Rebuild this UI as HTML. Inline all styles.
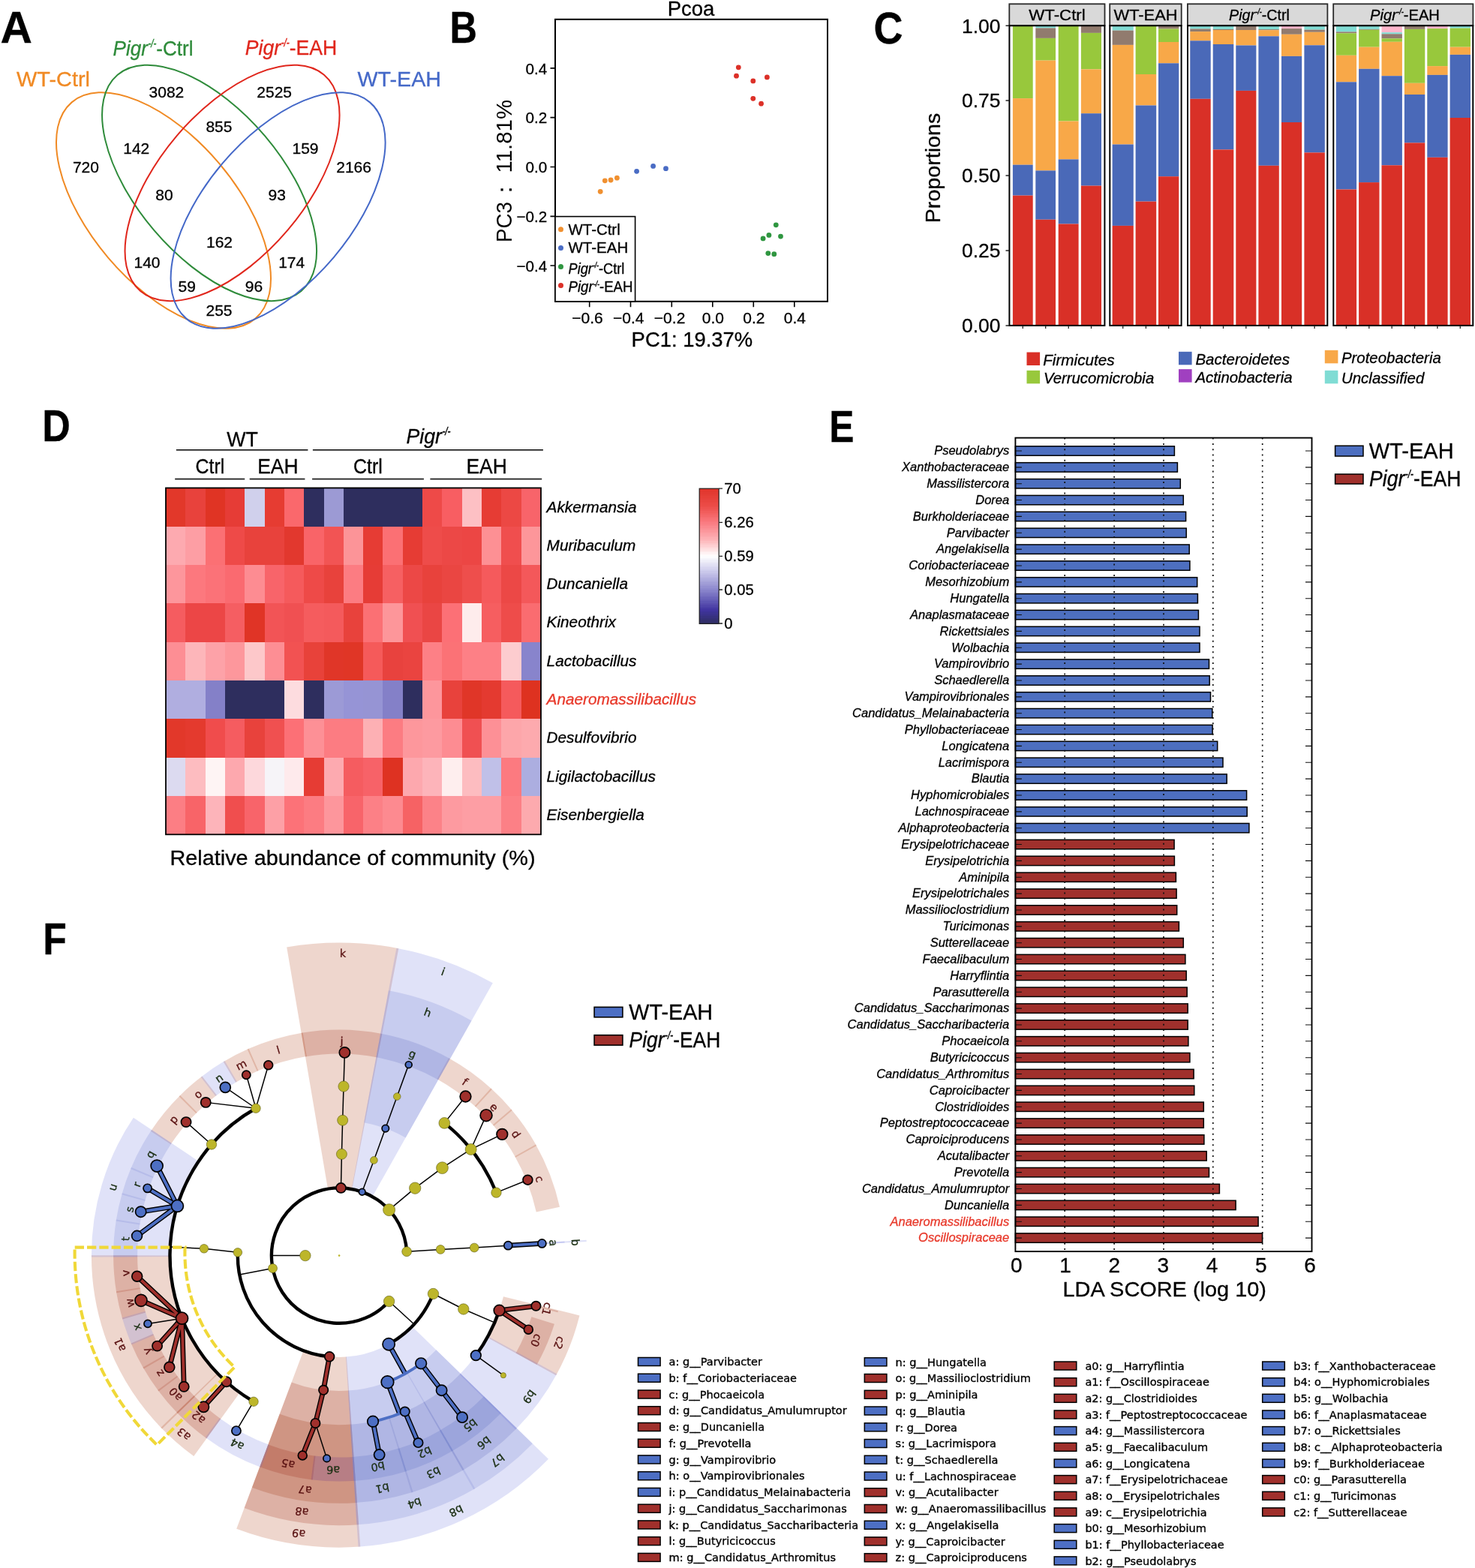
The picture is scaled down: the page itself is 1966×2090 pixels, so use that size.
<!DOCTYPE html>
<html><head><meta charset="utf-8"><title>Figure</title>
<style>html,body{margin:0;padding:0;background:#fff}body{width:1966px;height:2090px;overflow:hidden}svg{display:block}</style>
</head><body>
<svg width="1966" height="2090" viewBox="0 0 1966 2090" font-family="Liberation Sans, Arial, sans-serif" stroke="none" stroke-width="0.3">
<rect width="1966" height="2090" fill="#fff"/>
<g id="panelA">
<text x="0.6" y="56.5" font-size="59.5" font-weight="bold" stroke="#000" textLength="42.5" lengthAdjust="spacingAndGlyphs">A</text>
<text x="599.6" y="57.4" font-size="59.5" font-weight="bold" stroke="#000" textLength="36.5" lengthAdjust="spacingAndGlyphs">B</text>
<ellipse cx="0" cy="0" rx="189.07" ry="97.05" transform="translate(218.00 280.50) rotate(49.67)" fill="none" stroke="#f08a24" stroke-width="2"/>
<ellipse cx="0" cy="0" rx="189.07" ry="97.05" transform="translate(279.07 243.90) rotate(49.67)" fill="none" stroke="#2e8b3a" stroke-width="2"/>
<ellipse cx="0" cy="0" rx="189.07" ry="97.05" transform="translate(309.55 243.90) rotate(-49.67)" fill="none" stroke="#e0261c" stroke-width="2"/>
<ellipse cx="0" cy="0" rx="189.07" ry="97.05" transform="translate(370.60 280.50) rotate(-49.67)" fill="none" stroke="#4468c8" stroke-width="2"/>
<g transform="translate(150.6 73.8) scale(0.9312 1)" fill="#2e8b3a" stroke="#2e8b3a">
<text x="0" y="0" font-size="28" font-style="italic">Pigr</text>
<text x="50.4" y="-10.8" font-size="14.56" font-style="italic" stroke-width="0.5" textLength="11.7" lengthAdjust="spacingAndGlyphs">-/-</text>
<text x="62.0" y="0" font-size="28">-Ctrl</text>
</g>
<g transform="translate(326.8 72.7) scale(0.9501 1)" fill="#e0261c" stroke="#e0261c">
<text x="0" y="0" font-size="28" font-style="italic">Pigr</text>
<text x="50.4" y="-10.8" font-size="14.56" font-style="italic" stroke-width="0.5" textLength="11.7" lengthAdjust="spacingAndGlyphs">-/-</text>
<text x="62.0" y="0" font-size="28">-EAH</text>
</g>
<text x="22.0" y="114.7" font-size="28" fill="#f08a24" stroke="#f08a24" textLength="98.0" lengthAdjust="spacingAndGlyphs">WT-Ctrl</text>
<text x="476.5" y="114.7" font-size="28" fill="#4468c8" stroke="#4468c8" textLength="111.5" lengthAdjust="spacingAndGlyphs">WT-EAH</text>
<text x="221.9" y="130.3" font-size="21" text-anchor="middle" stroke="#000">3082</text>
<text x="365.7" y="130.3" font-size="21" text-anchor="middle" stroke="#000">2525</text>
<text x="291.9" y="176.2" font-size="21" text-anchor="middle" stroke="#000">855</text>
<text x="181.8" y="205.3" font-size="21" text-anchor="middle" stroke="#000">142</text>
<text x="407.0" y="205.3" font-size="21" text-anchor="middle" stroke="#000">159</text>
<text x="114.4" y="230.3" font-size="21" text-anchor="middle" stroke="#000">720</text>
<text x="471.6" y="230.3" font-size="21" text-anchor="middle" stroke="#000">2166</text>
<text x="219.0" y="267.1" font-size="21" text-anchor="middle" stroke="#000">80</text>
<text x="369.3" y="267.1" font-size="21" text-anchor="middle" stroke="#000">93</text>
<text x="292.5" y="329.7" font-size="21" text-anchor="middle" stroke="#000">162</text>
<text x="196.0" y="357.0" font-size="21" text-anchor="middle" stroke="#000">140</text>
<text x="388.7" y="357.0" font-size="21" text-anchor="middle" stroke="#000">174</text>
<text x="249.3" y="388.5" font-size="21" text-anchor="middle" stroke="#000">59</text>
<text x="338.4" y="388.5" font-size="21" text-anchor="middle" stroke="#000">96</text>
<text x="292.0" y="420.6" font-size="21" text-anchor="middle" stroke="#000">255</text>
</g>
<g id="panelB">
<text x="921.0" y="20.9" font-size="27.5" text-anchor="middle" stroke="#000" textLength="62.6" lengthAdjust="spacingAndGlyphs">Pcoa</text>
<path d="M785.7 401.8v7.5M840.5 401.8v7.5M895.3 401.8v7.5M949.8 401.8v7.5M1004.3 401.8v7.5M1058.8 401.8v7.5M740.0 90.9h-6.5M740.0 156.6h-6.5M740.0 222.5h-6.5M740.0 288.4h-6.5M740.0 354.0h-6.5" stroke="#000" stroke-width="1.6" fill="none"/>
<text x="783.0" y="430.5" font-size="21" text-anchor="middle" stroke="#000" textLength="41.5" lengthAdjust="spacingAndGlyphs">−0.6</text>
<text x="837.8" y="430.5" font-size="21" text-anchor="middle" stroke="#000" textLength="41.5" lengthAdjust="spacingAndGlyphs">−0.4</text>
<text x="892.6" y="430.5" font-size="21" text-anchor="middle" stroke="#000" textLength="41.5" lengthAdjust="spacingAndGlyphs">−0.2</text>
<text x="950.4" y="430.5" font-size="21" text-anchor="middle" stroke="#000" textLength="29.2" lengthAdjust="spacingAndGlyphs">0.0</text>
<text x="1004.9" y="430.5" font-size="21" text-anchor="middle" stroke="#000" textLength="29.2" lengthAdjust="spacingAndGlyphs">0.2</text>
<text x="1059.4" y="430.5" font-size="21" text-anchor="middle" stroke="#000" textLength="29.2" lengthAdjust="spacingAndGlyphs">0.4</text>
<text x="729.3" y="98.6" font-size="21" text-anchor="end" stroke="#000" textLength="28.8" lengthAdjust="spacingAndGlyphs">0.4</text>
<text x="729.3" y="164.3" font-size="21" text-anchor="end" stroke="#000" textLength="28.8" lengthAdjust="spacingAndGlyphs">0.2</text>
<text x="729.3" y="230.2" font-size="21" text-anchor="end" stroke="#000" textLength="28.8" lengthAdjust="spacingAndGlyphs">0.0</text>
<text x="729.3" y="296.1" font-size="21" text-anchor="end" stroke="#000" textLength="40.8" lengthAdjust="spacingAndGlyphs">−0.2</text>
<text x="729.3" y="361.7" font-size="21" text-anchor="end" stroke="#000" textLength="40.8" lengthAdjust="spacingAndGlyphs">−0.4</text>
<text x="922.4" y="461.6" font-size="27.4" text-anchor="middle" stroke="#000" textLength="161.6" lengthAdjust="spacingAndGlyphs">PC1: 19.37%</text>
<g transform="translate(681.5 323) rotate(-90)">
<text x="0" y="0" font-size="28.7" textLength="54.0" lengthAdjust="spacingAndGlyphs">PC3</text>
<text x="70.1" y="0" font-size="28.7" text-anchor="middle" font-family="Liberation Sans, WenQuanYi Zen Hei, sans-serif">：</text>
<text x="92.6" y="0" font-size="28.7" textLength="97.4" lengthAdjust="spacingAndGlyphs">11.81%</text>
</g>
<circle cx="984.3" cy="89.8" r="3.4" fill="#dc3028"/>
<circle cx="981.5" cy="101.2" r="3.4" fill="#dc3028"/>
<circle cx="1003.8" cy="107.9" r="3.4" fill="#dc3028"/>
<circle cx="1022.4" cy="102.9" r="3.4" fill="#dc3028"/>
<circle cx="1003.8" cy="131.3" r="3.4" fill="#dc3028"/>
<circle cx="1014.6" cy="138.2" r="3.4" fill="#dc3028"/>
<circle cx="848.6" cy="228.3" r="3.4" fill="#4a6cc4"/>
<circle cx="870.6" cy="221.4" r="3.4" fill="#4a6cc4"/>
<circle cx="887.5" cy="224.7" r="3.4" fill="#4a6cc4"/>
<circle cx="806.3" cy="240.8" r="3.4" fill="#f09030"/>
<circle cx="814.1" cy="240.0" r="3.4" fill="#f09030"/>
<circle cx="822.4" cy="237.2" r="3.4" fill="#f09030"/>
<circle cx="800.2" cy="255.3" r="3.4" fill="#f09030"/>
<circle cx="1034.3" cy="299.8" r="3.4" fill="#2f9640"/>
<circle cx="1024.9" cy="313.4" r="3.4" fill="#2f9640"/>
<circle cx="1017.1" cy="317.9" r="3.4" fill="#2f9640"/>
<circle cx="1040.5" cy="315.1" r="3.4" fill="#2f9640"/>
<circle cx="1023.8" cy="337.6" r="3.4" fill="#2f9640"/>
<circle cx="1031.8" cy="338.7" r="3.4" fill="#2f9640"/>
<rect x="740.0" y="25.8" width="363.0" height="376.0" fill="none" stroke="#000" stroke-width="2"/>
<rect x="740.0" y="288.6" width="106.6" height="113.2" fill="#fff" stroke="#000" stroke-width="1.6"/>
<circle cx="747.5" cy="305.7" r="3.5" fill="#f09030"/>
<circle cx="747.5" cy="330.5" r="3.5" fill="#4a6cc4"/>
<circle cx="747.5" cy="355.5" r="3.5" fill="#2f9640"/>
<circle cx="747.5" cy="380.4" r="3.5" fill="#dc3028"/>
<text x="757.5" y="312.5" font-size="20" stroke="#000" textLength="69.2" lengthAdjust="spacingAndGlyphs">WT-Ctrl</text>
<text x="757.5" y="337.4" font-size="20" stroke="#000" textLength="79.7" lengthAdjust="spacingAndGlyphs">WT-EAH</text>
<g transform="translate(757.5 364.5) scale(0.9125 1)" stroke="#000">
<text x="0" y="0" font-size="20" font-style="italic">Pigr</text>
<text x="36.0" y="-7.7" font-size="10.4" font-style="italic" stroke-width="0.5" textLength="8.3" lengthAdjust="spacingAndGlyphs">-/-</text>
<text x="44.3" y="0" font-size="20">-Ctrl</text>
</g>
<g transform="translate(757.5 389.4) scale(0.9349 1)" stroke="#000">
<text x="0" y="0" font-size="20" font-style="italic">Pigr</text>
<text x="36.0" y="-7.7" font-size="10.4" font-style="italic" stroke-width="0.5" textLength="8.3" lengthAdjust="spacingAndGlyphs">-/-</text>
<text x="44.3" y="0" font-size="20">-EAH</text>
</g>
</g>
<g id="panelC">
<text x="1164.6" y="57.6" font-size="59.5" font-weight="bold" stroke="#000" textLength="39.0" lengthAdjust="spacingAndGlyphs">C</text>
<rect x="1349.9" y="34.2" width="26.8" height="96.9" fill="#98c83c"/>
<rect x="1349.9" y="131.1" width="26.8" height="88.6" fill="#f8a848"/>
<rect x="1349.9" y="219.7" width="26.8" height="40.9" fill="#4a69b8"/>
<rect x="1349.9" y="260.6" width="26.8" height="173.3" fill="#d93027"/>
<rect x="1380.3" y="34.2" width="26.7" height="3.2" fill="#80dcd4"/>
<rect x="1380.3" y="37.4" width="26.7" height="13.5" fill="#917b6e"/>
<rect x="1380.3" y="50.9" width="26.7" height="29.7" fill="#98c83c"/>
<rect x="1380.3" y="80.6" width="26.7" height="146.8" fill="#f8a848"/>
<rect x="1380.3" y="227.4" width="26.7" height="65.3" fill="#4a69b8"/>
<rect x="1380.3" y="292.7" width="26.7" height="141.2" fill="#d93027"/>
<rect x="1410.7" y="34.2" width="26.9" height="127.3" fill="#98c83c"/>
<rect x="1410.7" y="161.5" width="26.9" height="50.9" fill="#f8a848"/>
<rect x="1410.7" y="212.4" width="26.9" height="86.1" fill="#4a69b8"/>
<rect x="1410.7" y="298.5" width="26.9" height="135.4" fill="#d93027"/>
<rect x="1440.9" y="34.2" width="27.1" height="9.7" fill="#917b6e"/>
<rect x="1440.9" y="43.9" width="27.1" height="48.5" fill="#98c83c"/>
<rect x="1440.9" y="92.4" width="27.1" height="58.8" fill="#f8a848"/>
<rect x="1440.9" y="151.2" width="27.1" height="96.4" fill="#4a69b8"/>
<rect x="1440.9" y="247.6" width="27.1" height="186.3" fill="#d93027"/>
<rect x="1345.3" y="5.3" width="127.2" height="28.9" fill="#d9d9d9" stroke="#2a2a2a" stroke-width="1.8"/>
<rect x="1345.4" y="34.2" width="127.0" height="399.7" fill="none" stroke="#000" stroke-width="2"/>
<rect x="1482.6" y="34.2" width="28.2" height="6.4" fill="#80dcd4"/>
<rect x="1482.6" y="40.6" width="28.2" height="19.3" fill="#917b6e"/>
<rect x="1482.6" y="59.9" width="28.2" height="132.6" fill="#f8a848"/>
<rect x="1482.6" y="192.5" width="28.2" height="108.4" fill="#4a69b8"/>
<rect x="1482.6" y="300.9" width="28.2" height="133.0" fill="#d93027"/>
<rect x="1513.6" y="34.2" width="27.6" height="64.8" fill="#98c83c"/>
<rect x="1513.6" y="99.0" width="27.6" height="41.5" fill="#f8a848"/>
<rect x="1513.6" y="140.5" width="27.6" height="128.1" fill="#4a69b8"/>
<rect x="1513.6" y="268.6" width="27.6" height="165.3" fill="#d93027"/>
<rect x="1544.0" y="34.2" width="27.3" height="4.3" fill="#917b6e"/>
<rect x="1544.0" y="38.5" width="27.3" height="17.5" fill="#98c83c"/>
<rect x="1544.0" y="56.0" width="27.3" height="28.3" fill="#f8a848"/>
<rect x="1544.0" y="84.3" width="27.3" height="150.9" fill="#4a69b8"/>
<rect x="1544.0" y="235.2" width="27.3" height="198.7" fill="#d93027"/>
<rect x="1479.2" y="5.3" width="95.5" height="28.9" fill="#d9d9d9" stroke="#2a2a2a" stroke-width="1.8"/>
<rect x="1479.3" y="34.2" width="95.3" height="399.7" fill="none" stroke="#000" stroke-width="2"/>
<rect x="1586.3" y="34.2" width="27.4" height="4.3" fill="#80dcd4"/>
<rect x="1586.3" y="38.5" width="27.4" height="3.6" fill="#917b6e"/>
<rect x="1586.3" y="42.1" width="27.4" height="12.2" fill="#f8a848"/>
<rect x="1586.3" y="54.3" width="27.4" height="77.5" fill="#4a69b8"/>
<rect x="1586.3" y="131.8" width="27.4" height="302.1" fill="#d93027"/>
<rect x="1616.7" y="34.2" width="27.6" height="4.7" fill="#80dcd4"/>
<rect x="1616.7" y="38.9" width="27.6" height="1.1" fill="#917b6e"/>
<rect x="1616.7" y="40.0" width="27.6" height="19.0" fill="#f8a848"/>
<rect x="1616.7" y="59.0" width="27.6" height="140.4" fill="#4a69b8"/>
<rect x="1616.7" y="199.4" width="27.6" height="234.5" fill="#d93027"/>
<rect x="1647.3" y="34.2" width="27.1" height="5.8" fill="#917b6e"/>
<rect x="1647.3" y="40.0" width="27.1" height="20.5" fill="#f8a848"/>
<rect x="1647.3" y="60.5" width="27.1" height="60.4" fill="#4a69b8"/>
<rect x="1647.3" y="120.9" width="27.1" height="313.0" fill="#d93027"/>
<rect x="1677.4" y="34.2" width="27.4" height="4.9" fill="#80dcd4"/>
<rect x="1677.4" y="39.1" width="27.4" height="1.1" fill="#917b6e"/>
<rect x="1677.4" y="40.2" width="27.4" height="8.1" fill="#f8a848"/>
<rect x="1677.4" y="48.3" width="27.4" height="172.5" fill="#4a69b8"/>
<rect x="1677.4" y="220.8" width="27.4" height="213.1" fill="#d93027"/>
<rect x="1708.0" y="34.2" width="27.2" height="3.9" fill="#ffb6cc"/>
<rect x="1708.0" y="38.1" width="27.2" height="7.7" fill="#917b6e"/>
<rect x="1708.0" y="45.8" width="27.2" height="29.1" fill="#f8a848"/>
<rect x="1708.0" y="74.9" width="27.2" height="88.1" fill="#4a69b8"/>
<rect x="1708.0" y="163.0" width="27.2" height="270.9" fill="#d93027"/>
<rect x="1738.4" y="34.2" width="27.4" height="5.4" fill="#80dcd4"/>
<rect x="1738.4" y="39.6" width="27.4" height="3.2" fill="#917b6e"/>
<rect x="1738.4" y="42.8" width="27.4" height="17.5" fill="#f8a848"/>
<rect x="1738.4" y="60.3" width="27.4" height="143.1" fill="#4a69b8"/>
<rect x="1738.4" y="203.4" width="27.4" height="230.5" fill="#d93027"/>
<rect x="1582.9" y="5.3" width="186.5" height="28.9" fill="#d9d9d9" stroke="#2a2a2a" stroke-width="1.8"/>
<rect x="1583.0" y="34.2" width="186.3" height="399.7" fill="none" stroke="#000" stroke-width="2"/>
<rect x="1780.8" y="34.2" width="27.3" height="8.2" fill="#80dcd4"/>
<rect x="1780.8" y="42.4" width="27.3" height="1.9" fill="#917b6e"/>
<rect x="1780.8" y="44.3" width="27.3" height="29.5" fill="#98c83c"/>
<rect x="1780.8" y="73.8" width="27.3" height="35.5" fill="#f8a848"/>
<rect x="1780.8" y="109.3" width="27.3" height="143.2" fill="#4a69b8"/>
<rect x="1780.8" y="252.5" width="27.3" height="181.4" fill="#d93027"/>
<rect x="1811.1" y="34.2" width="27.4" height="4.7" fill="#80dcd4"/>
<rect x="1811.1" y="38.9" width="27.4" height="0.9" fill="#917b6e"/>
<rect x="1811.1" y="39.8" width="27.4" height="22.9" fill="#98c83c"/>
<rect x="1811.1" y="62.7" width="27.4" height="29.1" fill="#f8a848"/>
<rect x="1811.1" y="91.8" width="27.4" height="151.3" fill="#4a69b8"/>
<rect x="1811.1" y="243.1" width="27.4" height="190.8" fill="#d93027"/>
<rect x="1841.5" y="34.2" width="27.4" height="9.0" fill="#ffb6cc"/>
<rect x="1841.5" y="43.2" width="27.4" height="2.1" fill="#80dcd4"/>
<rect x="1841.5" y="45.3" width="27.4" height="6.0" fill="#917b6e"/>
<rect x="1841.5" y="51.3" width="27.4" height="4.5" fill="#98c83c"/>
<rect x="1841.5" y="55.8" width="27.4" height="45.4" fill="#f8a848"/>
<rect x="1841.5" y="101.2" width="27.4" height="119.1" fill="#4a69b8"/>
<rect x="1841.5" y="220.3" width="27.4" height="213.6" fill="#d93027"/>
<rect x="1871.9" y="34.2" width="27.4" height="4.7" fill="#917b6e"/>
<rect x="1871.9" y="38.9" width="27.4" height="71.9" fill="#98c83c"/>
<rect x="1871.9" y="110.8" width="27.4" height="15.2" fill="#f8a848"/>
<rect x="1871.9" y="126.0" width="27.4" height="64.4" fill="#4a69b8"/>
<rect x="1871.9" y="190.4" width="27.4" height="243.5" fill="#d93027"/>
<rect x="1902.3" y="34.2" width="27.3" height="3.9" fill="#ffb6cc"/>
<rect x="1902.3" y="38.1" width="27.3" height="50.0" fill="#98c83c"/>
<rect x="1902.3" y="88.1" width="27.3" height="11.8" fill="#f8a848"/>
<rect x="1902.3" y="99.9" width="27.3" height="109.9" fill="#4a69b8"/>
<rect x="1902.3" y="209.8" width="27.3" height="224.1" fill="#d93027"/>
<rect x="1932.6" y="34.2" width="27.4" height="3.4" fill="#80dcd4"/>
<rect x="1932.6" y="37.6" width="27.4" height="25.1" fill="#98c83c"/>
<rect x="1932.6" y="62.7" width="27.4" height="10.2" fill="#f8a848"/>
<rect x="1932.6" y="72.9" width="27.4" height="84.1" fill="#4a69b8"/>
<rect x="1932.6" y="157.0" width="27.4" height="276.9" fill="#d93027"/>
<rect x="1777.2" y="5.3" width="186.2" height="28.9" fill="#d9d9d9" stroke="#2a2a2a" stroke-width="1.8"/>
<rect x="1777.3" y="34.2" width="186.0" height="399.7" fill="none" stroke="#000" stroke-width="2"/>
<path d="M1363.3 433.9v4M1393.7 433.9v4M1424.2 433.9v4M1454.5 433.9v4M1496.7 433.9v4M1527.4 433.9v4M1557.7 433.9v4M1600.0 433.9v4M1630.5 433.9v4M1660.8 433.9v4M1691.1 433.9v4M1721.6 433.9v4M1752.1 433.9v4M1794.4 433.9v4M1824.8 433.9v4M1855.2 433.9v4M1885.6 433.9v4M1915.9 433.9v4M1946.3 433.9v4" stroke="#222" stroke-width="1.3" fill="none"/>
<text x="1409.0" y="26.7" font-size="21" text-anchor="middle" stroke="#000" textLength="75.5" lengthAdjust="spacingAndGlyphs">WT-Ctrl</text>
<text x="1527.0" y="26.7" font-size="21" text-anchor="middle" stroke="#000" textLength="85.0" lengthAdjust="spacingAndGlyphs">WT-EAH</text>
<g transform="translate(1638.0 26.7) scale(0.9399 1)" stroke="#000">
<text x="0" y="0" font-size="21" font-style="italic">Pigr</text>
<text x="37.8" y="-8.1" font-size="10.92" font-style="italic" stroke-width="0.5" textLength="8.8" lengthAdjust="spacingAndGlyphs">-/-</text>
<text x="46.5" y="0" font-size="21">-Ctrl</text>
</g>
<g transform="translate(1826.0 26.7) scale(0.9617 1)" stroke="#000">
<text x="0" y="0" font-size="21" font-style="italic">Pigr</text>
<text x="37.8" y="-8.1" font-size="10.92" font-style="italic" stroke-width="0.5" textLength="8.8" lengthAdjust="spacingAndGlyphs">-/-</text>
<text x="46.5" y="0" font-size="21">-EAH</text>
</g>
<text x="1333.5" y="443.2" font-size="26" text-anchor="end" stroke="#000" textLength="51.4" lengthAdjust="spacingAndGlyphs">0.00</text>
<text x="1333.5" y="343.3" font-size="26" text-anchor="end" stroke="#000" textLength="51.4" lengthAdjust="spacingAndGlyphs">0.25</text>
<text x="1333.5" y="243.3" font-size="26" text-anchor="end" stroke="#000" textLength="51.4" lengthAdjust="spacingAndGlyphs">0.50</text>
<text x="1333.5" y="143.4" font-size="26" text-anchor="end" stroke="#000" textLength="51.4" lengthAdjust="spacingAndGlyphs">0.75</text>
<text x="1333.5" y="43.5" font-size="26" text-anchor="end" stroke="#000" textLength="51.4" lengthAdjust="spacingAndGlyphs">1.00</text>
<path d="M1345 433.9h-4.5M1345 334.0h-4.5M1345 234.0h-4.5M1345 134.1h-4.5M1345 34.2h-4.5" stroke="#222" stroke-width="1.5" fill="none"/>
<text x="1252.5" y="224.0" font-size="28.5" text-anchor="middle" stroke="#000" textLength="146.5" lengthAdjust="spacingAndGlyphs" transform="rotate(-90.00 1252.5 224.0)">Proportions</text>
<rect x="1368.5" y="469.5" width="17.6" height="17.5" fill="#d93027"/>
<text x="1390.2" y="486.9" font-size="21" font-style="italic" stroke="#000" textLength="95.4" lengthAdjust="spacingAndGlyphs">Firmicutes</text>
<rect x="1368.5" y="493.8" width="17.6" height="17.5" fill="#98c83c"/>
<text x="1390.9" y="511.4" font-size="21" font-style="italic" stroke="#000" textLength="147.3" lengthAdjust="spacingAndGlyphs">Verrucomicrobia</text>
<rect x="1571.0" y="468.8" width="17.6" height="17.5" fill="#4a69b8"/>
<text x="1593.4" y="486.2" font-size="21" font-style="italic" stroke="#000" textLength="125.6" lengthAdjust="spacingAndGlyphs">Bacteroidetes</text>
<rect x="1571.0" y="492.1" width="17.6" height="17.5" fill="#a040c0"/>
<text x="1593.4" y="509.7" font-size="21" font-style="italic" stroke="#000" textLength="129.3" lengthAdjust="spacingAndGlyphs">Actinobacteria</text>
<rect x="1765.8" y="466.8" width="17.6" height="17.5" fill="#f8a848"/>
<text x="1787.9" y="484.2" font-size="21" font-style="italic" stroke="#000" textLength="132.9" lengthAdjust="spacingAndGlyphs">Proteobacteria</text>
<rect x="1765.8" y="493.8" width="17.6" height="17.5" fill="#80dcd4"/>
<text x="1787.9" y="511.4" font-size="21" font-style="italic" stroke="#000" textLength="110.5" lengthAdjust="spacingAndGlyphs">Unclassified</text>
</g>
<g id="panelD">
<text x="56.2" y="588.4" font-size="59.5" font-weight="bold" stroke="#000" textLength="37.6" lengthAdjust="spacingAndGlyphs">D</text>
<g shape-rendering="crispEdges">
<rect x="221.10" y="650.50" width="26.61" height="51.60" fill="#e2382a"/>
<rect x="247.41" y="650.50" width="26.61" height="51.60" fill="#e8423c"/>
<rect x="273.71" y="650.50" width="26.61" height="51.60" fill="#e03424"/>
<rect x="300.02" y="650.50" width="26.61" height="51.60" fill="#e63c36"/>
<rect x="326.32" y="650.50" width="26.61" height="51.60" fill="#d0d0ec"/>
<rect x="352.63" y="650.50" width="26.61" height="51.60" fill="#e63c32"/>
<rect x="378.93" y="650.50" width="26.61" height="51.60" fill="#fa686c"/>
<rect x="405.24" y="650.50" width="26.61" height="51.60" fill="#2e2e5e"/>
<rect x="431.54" y="650.50" width="26.61" height="51.60" fill="#9c9ad4"/>
<rect x="457.85" y="650.50" width="105.52" height="51.60" fill="#2e2e5e"/>
<rect x="563.07" y="650.50" width="26.61" height="51.60" fill="#ee4a48"/>
<rect x="589.37" y="650.50" width="26.61" height="51.60" fill="#f85e62"/>
<rect x="615.68" y="650.50" width="26.61" height="51.60" fill="#fdc0c4"/>
<rect x="641.98" y="650.50" width="26.61" height="51.60" fill="#e63c34"/>
<rect x="668.29" y="650.50" width="26.61" height="51.60" fill="#ec4844"/>
<rect x="694.59" y="650.50" width="26.61" height="51.60" fill="#f8646a"/>
<rect x="221.10" y="701.80" width="26.61" height="51.60" fill="#fdaab0"/>
<rect x="247.41" y="701.80" width="26.61" height="51.60" fill="#fd9ea4"/>
<rect x="273.71" y="701.80" width="26.61" height="51.60" fill="#fb7074"/>
<rect x="300.02" y="701.80" width="26.61" height="51.60" fill="#ee4a48"/>
<rect x="326.32" y="701.80" width="52.91" height="51.60" fill="#e8423c"/>
<rect x="378.93" y="701.80" width="26.61" height="51.60" fill="#e2382e"/>
<rect x="405.24" y="701.80" width="26.61" height="51.60" fill="#f96468"/>
<rect x="431.54" y="701.80" width="26.61" height="51.60" fill="#f25454"/>
<rect x="457.85" y="701.80" width="26.61" height="51.60" fill="#fc9498"/>
<rect x="484.15" y="701.80" width="26.61" height="51.60" fill="#e63c34"/>
<rect x="510.46" y="701.80" width="26.61" height="51.60" fill="#fb7074"/>
<rect x="536.76" y="701.80" width="26.61" height="51.60" fill="#e63c34"/>
<rect x="563.07" y="701.80" width="26.61" height="51.60" fill="#ee4c4a"/>
<rect x="589.37" y="701.80" width="26.61" height="51.60" fill="#ec4846"/>
<rect x="615.68" y="701.80" width="26.61" height="51.60" fill="#ec4644"/>
<rect x="641.98" y="701.80" width="26.61" height="51.60" fill="#fd9094"/>
<rect x="668.29" y="701.80" width="26.61" height="51.60" fill="#f04e4e"/>
<rect x="694.59" y="701.80" width="26.61" height="51.60" fill="#fd969a"/>
<rect x="221.10" y="753.10" width="26.61" height="51.60" fill="#fd969c"/>
<rect x="247.41" y="753.10" width="26.61" height="51.60" fill="#fc787e"/>
<rect x="273.71" y="753.10" width="26.61" height="51.60" fill="#fb7278"/>
<rect x="300.02" y="753.10" width="26.61" height="51.60" fill="#fa6a70"/>
<rect x="326.32" y="753.10" width="26.61" height="51.60" fill="#fd8c92"/>
<rect x="352.63" y="753.10" width="26.61" height="51.60" fill="#f8646a"/>
<rect x="378.93" y="753.10" width="26.61" height="51.60" fill="#f55a5c"/>
<rect x="405.24" y="753.10" width="26.61" height="51.60" fill="#ee4a48"/>
<rect x="431.54" y="753.10" width="26.61" height="51.60" fill="#e8423c"/>
<rect x="457.85" y="753.10" width="26.61" height="51.60" fill="#fc7c82"/>
<rect x="484.15" y="753.10" width="26.61" height="51.60" fill="#e63c36"/>
<rect x="510.46" y="753.10" width="26.61" height="51.60" fill="#f66062"/>
<rect x="536.76" y="753.10" width="26.61" height="51.60" fill="#ec4846"/>
<rect x="563.07" y="753.10" width="26.61" height="51.60" fill="#e8423c"/>
<rect x="589.37" y="753.10" width="26.61" height="51.60" fill="#ea4642"/>
<rect x="615.68" y="753.10" width="26.61" height="51.60" fill="#ee4e4c"/>
<rect x="641.98" y="753.10" width="26.61" height="51.60" fill="#f55a5c"/>
<rect x="668.29" y="753.10" width="26.61" height="51.60" fill="#ec4846"/>
<rect x="694.59" y="753.10" width="26.61" height="51.60" fill="#f4585a"/>
<rect x="221.10" y="804.40" width="26.61" height="51.60" fill="#f55c60"/>
<rect x="247.41" y="804.40" width="52.91" height="51.60" fill="#ec4646"/>
<rect x="300.02" y="804.40" width="26.61" height="51.60" fill="#f55e62"/>
<rect x="326.32" y="804.40" width="26.61" height="51.60" fill="#e03426"/>
<rect x="352.63" y="804.40" width="26.61" height="51.60" fill="#f25456"/>
<rect x="378.93" y="804.40" width="26.61" height="51.60" fill="#f05052"/>
<rect x="405.24" y="804.40" width="26.61" height="51.60" fill="#f55c5e"/>
<rect x="431.54" y="804.40" width="26.61" height="51.60" fill="#f45a5c"/>
<rect x="457.85" y="804.40" width="26.61" height="51.60" fill="#e8423c"/>
<rect x="484.15" y="804.40" width="26.61" height="51.60" fill="#fb7074"/>
<rect x="510.46" y="804.40" width="26.61" height="51.60" fill="#fd969a"/>
<rect x="536.76" y="804.40" width="26.61" height="51.60" fill="#f05052"/>
<rect x="563.07" y="804.40" width="26.61" height="51.60" fill="#ea4644"/>
<rect x="589.37" y="804.40" width="26.61" height="51.60" fill="#fc7076"/>
<rect x="615.68" y="804.40" width="26.61" height="51.60" fill="#feecec"/>
<rect x="641.98" y="804.40" width="26.61" height="51.60" fill="#f65e60"/>
<rect x="668.29" y="804.40" width="26.61" height="51.60" fill="#ee4c4a"/>
<rect x="694.59" y="804.40" width="26.61" height="51.60" fill="#fa6c70"/>
<rect x="221.10" y="855.70" width="26.61" height="51.60" fill="#fd8e94"/>
<rect x="247.41" y="855.70" width="26.61" height="51.60" fill="#fdb6ba"/>
<rect x="273.71" y="855.70" width="26.61" height="51.60" fill="#fda2a8"/>
<rect x="300.02" y="855.70" width="26.61" height="51.60" fill="#fd979c"/>
<rect x="326.32" y="855.70" width="26.61" height="51.60" fill="#fdc8ca"/>
<rect x="352.63" y="855.70" width="26.61" height="51.60" fill="#fd8e94"/>
<rect x="378.93" y="855.70" width="26.61" height="51.60" fill="#f25252"/>
<rect x="405.24" y="855.70" width="26.61" height="51.60" fill="#e8423a"/>
<rect x="431.54" y="855.70" width="26.61" height="51.60" fill="#e03628"/>
<rect x="457.85" y="855.70" width="26.61" height="51.60" fill="#e03626"/>
<rect x="484.15" y="855.70" width="26.61" height="51.60" fill="#f55a5a"/>
<rect x="510.46" y="855.70" width="26.61" height="51.60" fill="#e8423e"/>
<rect x="536.76" y="855.70" width="26.61" height="51.60" fill="#ea4440"/>
<rect x="563.07" y="855.70" width="26.61" height="51.60" fill="#fd8086"/>
<rect x="589.37" y="855.70" width="26.61" height="51.60" fill="#fb7276"/>
<rect x="615.68" y="855.70" width="52.91" height="51.60" fill="#fd8086"/>
<rect x="668.29" y="855.70" width="26.61" height="51.60" fill="#fdcccf"/>
<rect x="694.59" y="855.70" width="26.61" height="51.60" fill="#8884cc"/>
<rect x="221.10" y="907.00" width="52.91" height="51.60" fill="#b0aee0"/>
<rect x="273.71" y="907.00" width="26.61" height="51.60" fill="#8480c8"/>
<rect x="300.02" y="907.00" width="79.22" height="51.60" fill="#2e2e5e"/>
<rect x="378.93" y="907.00" width="26.61" height="51.60" fill="#fddcdf"/>
<rect x="405.24" y="907.00" width="26.61" height="51.60" fill="#2e2e5e"/>
<rect x="431.54" y="907.00" width="26.61" height="51.60" fill="#9c9ad6"/>
<rect x="457.85" y="907.00" width="26.61" height="51.60" fill="#9694d6"/>
<rect x="484.15" y="907.00" width="26.61" height="51.60" fill="#9694d4"/>
<rect x="510.46" y="907.00" width="26.61" height="51.60" fill="#8480c8"/>
<rect x="536.76" y="907.00" width="26.61" height="51.60" fill="#2e2e5e"/>
<rect x="563.07" y="907.00" width="26.61" height="51.60" fill="#fd969c"/>
<rect x="589.37" y="907.00" width="26.61" height="51.60" fill="#e8423c"/>
<rect x="615.68" y="907.00" width="26.61" height="51.60" fill="#e03628"/>
<rect x="641.98" y="907.00" width="26.61" height="51.60" fill="#e43a30"/>
<rect x="668.29" y="907.00" width="26.61" height="51.60" fill="#f55a5c"/>
<rect x="694.59" y="907.00" width="26.61" height="51.60" fill="#de3220"/>
<rect x="221.10" y="958.30" width="26.61" height="51.60" fill="#e2382a"/>
<rect x="247.41" y="958.30" width="26.61" height="51.60" fill="#e43a2e"/>
<rect x="273.71" y="958.30" width="26.61" height="51.60" fill="#f04c4c"/>
<rect x="300.02" y="958.30" width="26.61" height="51.60" fill="#f55c60"/>
<rect x="326.32" y="958.30" width="26.61" height="51.60" fill="#e8423c"/>
<rect x="352.63" y="958.30" width="26.61" height="51.60" fill="#f05050"/>
<rect x="378.93" y="958.30" width="26.61" height="51.60" fill="#fc7076"/>
<rect x="405.24" y="958.30" width="26.61" height="51.60" fill="#fd9096"/>
<rect x="431.54" y="958.30" width="52.91" height="51.60" fill="#fc7c82"/>
<rect x="484.15" y="958.30" width="26.61" height="51.60" fill="#fdb0b4"/>
<rect x="510.46" y="958.30" width="26.61" height="51.60" fill="#fc7c82"/>
<rect x="536.76" y="958.30" width="26.61" height="51.60" fill="#fd979c"/>
<rect x="563.07" y="958.30" width="26.61" height="51.60" fill="#fd9aa0"/>
<rect x="589.37" y="958.30" width="26.61" height="51.60" fill="#fd8c92"/>
<rect x="615.68" y="958.30" width="26.61" height="51.60" fill="#f05052"/>
<rect x="641.98" y="958.30" width="26.61" height="51.60" fill="#fd9096"/>
<rect x="668.29" y="958.30" width="26.61" height="51.60" fill="#fda6aa"/>
<rect x="694.59" y="958.30" width="26.61" height="51.60" fill="#fdaaae"/>
<rect x="221.10" y="1009.60" width="26.61" height="51.60" fill="#dcdaf0"/>
<rect x="247.41" y="1009.60" width="26.61" height="51.60" fill="#fdbcc0"/>
<rect x="273.71" y="1009.60" width="26.61" height="51.60" fill="#fef4f4"/>
<rect x="300.02" y="1009.60" width="26.61" height="51.60" fill="#fda8ae"/>
<rect x="326.32" y="1009.60" width="26.61" height="51.60" fill="#fdd8dc"/>
<rect x="352.63" y="1009.60" width="26.61" height="51.60" fill="#f6f4f8"/>
<rect x="378.93" y="1009.60" width="26.61" height="51.60" fill="#feeaec"/>
<rect x="405.24" y="1009.60" width="26.61" height="51.60" fill="#e63c34"/>
<rect x="431.54" y="1009.60" width="26.61" height="51.60" fill="#fdaab0"/>
<rect x="457.85" y="1009.60" width="26.61" height="51.60" fill="#f55c60"/>
<rect x="484.15" y="1009.60" width="26.61" height="51.60" fill="#f76268"/>
<rect x="510.46" y="1009.60" width="26.61" height="51.60" fill="#de3222"/>
<rect x="536.76" y="1009.60" width="26.61" height="51.60" fill="#fda8ae"/>
<rect x="563.07" y="1009.60" width="26.61" height="51.60" fill="#fdb4ba"/>
<rect x="589.37" y="1009.60" width="26.61" height="51.60" fill="#feeeee"/>
<rect x="615.68" y="1009.60" width="26.61" height="51.60" fill="#fdbcc0"/>
<rect x="641.98" y="1009.60" width="26.61" height="51.60" fill="#c0c0e8"/>
<rect x="668.29" y="1009.60" width="26.61" height="51.60" fill="#fc7a80"/>
<rect x="694.59" y="1009.60" width="26.61" height="51.60" fill="#acaee0"/>
<rect x="221.10" y="1060.90" width="26.61" height="51.60" fill="#fc7e84"/>
<rect x="247.41" y="1060.90" width="26.61" height="51.60" fill="#f86468"/>
<rect x="273.71" y="1060.90" width="26.61" height="51.60" fill="#fdb4ba"/>
<rect x="300.02" y="1060.90" width="26.61" height="51.60" fill="#f04e4e"/>
<rect x="326.32" y="1060.90" width="26.61" height="51.60" fill="#f8646a"/>
<rect x="352.63" y="1060.90" width="26.61" height="51.60" fill="#fda0a6"/>
<rect x="378.93" y="1060.90" width="26.61" height="51.60" fill="#fc7278"/>
<rect x="405.24" y="1060.90" width="26.61" height="51.60" fill="#fc7c82"/>
<rect x="431.54" y="1060.90" width="26.61" height="51.60" fill="#fd969c"/>
<rect x="457.85" y="1060.90" width="26.61" height="51.60" fill="#f8646a"/>
<rect x="484.15" y="1060.90" width="26.61" height="51.60" fill="#fc8086"/>
<rect x="510.46" y="1060.90" width="26.61" height="51.60" fill="#fd8a90"/>
<rect x="536.76" y="1060.90" width="26.61" height="51.60" fill="#f66264"/>
<rect x="563.07" y="1060.90" width="26.61" height="51.60" fill="#fc8288"/>
<rect x="589.37" y="1060.90" width="26.61" height="51.60" fill="#fd9aa0"/>
<rect x="615.68" y="1060.90" width="52.91" height="51.60" fill="#fd9ea4"/>
<rect x="668.29" y="1060.90" width="26.61" height="51.60" fill="#fc8086"/>
<rect x="694.59" y="1060.90" width="26.61" height="51.60" fill="#fdaaae"/>
</g>
<rect x="221.0" y="650.4" width="500.0" height="461.9" fill="none" stroke="#000" stroke-width="1.8"/>
<text x="728.6" y="682.5" font-size="20.5" font-style="italic" stroke="#000" textLength="119.9" lengthAdjust="spacingAndGlyphs">Akkermansia</text>
<text x="728.6" y="733.9" font-size="20.5" font-style="italic" stroke="#000" textLength="118.8" lengthAdjust="spacingAndGlyphs">Muribaculum</text>
<text x="728.6" y="785.1" font-size="20.5" font-style="italic" stroke="#000" textLength="108.4" lengthAdjust="spacingAndGlyphs">Duncaniella</text>
<text x="728.6" y="836.4" font-size="20.5" font-style="italic" stroke="#000" textLength="92.3" lengthAdjust="spacingAndGlyphs">Kineothrix</text>
<text x="728.6" y="887.8" font-size="20.5" font-style="italic" stroke="#000" textLength="119.9" lengthAdjust="spacingAndGlyphs">Lactobacillus</text>
<text x="728.6" y="939.1" font-size="20.5" font-style="italic" fill="#e8392b" stroke="#e8392b" textLength="199.5" lengthAdjust="spacingAndGlyphs">Anaeromassilibacillus</text>
<text x="728.6" y="990.4" font-size="20.5" font-style="italic" stroke="#000" textLength="119.9" lengthAdjust="spacingAndGlyphs">Desulfovibrio</text>
<text x="728.6" y="1041.7" font-size="20.5" font-style="italic" stroke="#000" textLength="145.3" lengthAdjust="spacingAndGlyphs">Ligilactobacillus</text>
<text x="728.6" y="1093.0" font-size="20.5" font-style="italic" stroke="#000" textLength="130.3" lengthAdjust="spacingAndGlyphs">Eisenbergiella</text>
<text x="323.0" y="594.6" font-size="28.5" text-anchor="middle" stroke="#000" textLength="41.7" lengthAdjust="spacingAndGlyphs">WT</text>
<g transform="translate(541.5 590.6) scale(0.9510 1)" stroke="#000">
<text x="0" y="0" font-size="28" font-style="italic">Pigr</text>
<text x="50.4" y="-10.8" font-size="14.56" font-style="italic" stroke-width="0.5" textLength="11.7" lengthAdjust="spacingAndGlyphs">-/-</text>
</g>
<text x="279.9" y="631.4" font-size="28.5" text-anchor="middle" stroke="#000" textLength="38.8" lengthAdjust="spacingAndGlyphs">Ctrl</text>
<text x="370.4" y="631.4" font-size="28.5" text-anchor="middle" stroke="#000" textLength="54.4" lengthAdjust="spacingAndGlyphs">EAH</text>
<text x="490.4" y="631.4" font-size="28.5" text-anchor="middle" stroke="#000" textLength="38.8" lengthAdjust="spacingAndGlyphs">Ctrl</text>
<text x="648.6" y="631.4" font-size="28.5" text-anchor="middle" stroke="#000" textLength="54.4" lengthAdjust="spacingAndGlyphs">EAH</text>
<path d="M234.9 599.7H410.4M416.9 599.7H723.9M233.2 638.5H326.2M332.7 638.5H406.4M416.1 638.5H564.9M573.4 638.5H722.2" stroke="#000" stroke-width="1.6" fill="none"/>
<text x="470.0" y="1152.9" font-size="28" text-anchor="middle" stroke="#000" textLength="487.0" lengthAdjust="spacingAndGlyphs">Relative abundance of community (%)</text>
<g shape-rendering="crispEdges"><rect x="932.2" y="651.20" width="26" height="2.90" fill="#e1352c"/><rect x="932.2" y="653.70" width="26" height="2.90" fill="#e2382f"/><rect x="932.2" y="656.21" width="26" height="2.90" fill="#e33a32"/><rect x="932.2" y="658.71" width="26" height="2.90" fill="#e43d35"/><rect x="932.2" y="661.21" width="26" height="2.90" fill="#e64038"/><rect x="932.2" y="663.71" width="26" height="2.90" fill="#e7423c"/><rect x="932.2" y="666.22" width="26" height="2.90" fill="#e8453f"/><rect x="932.2" y="668.72" width="26" height="2.90" fill="#ea4742"/><rect x="932.2" y="671.22" width="26" height="2.90" fill="#eb4a45"/><rect x="932.2" y="673.73" width="26" height="2.90" fill="#ec4d49"/><rect x="932.2" y="676.23" width="26" height="2.90" fill="#ee524f"/><rect x="932.2" y="678.73" width="26" height="2.90" fill="#ef5756"/><rect x="932.2" y="681.23" width="26" height="2.90" fill="#f15d5c"/><rect x="932.2" y="683.74" width="26" height="2.90" fill="#f36263"/><rect x="932.2" y="686.24" width="26" height="2.90" fill="#f46769"/><rect x="932.2" y="688.74" width="26" height="2.90" fill="#f66d70"/><rect x="932.2" y="691.24" width="26" height="2.90" fill="#f87276"/><rect x="932.2" y="693.75" width="26" height="2.90" fill="#f9777d"/><rect x="932.2" y="696.25" width="26" height="2.90" fill="#fa7d83"/><rect x="932.2" y="698.75" width="26" height="2.90" fill="#fa8389"/><rect x="932.2" y="701.26" width="26" height="2.90" fill="#fb898f"/><rect x="932.2" y="703.76" width="26" height="2.90" fill="#fb9095"/><rect x="932.2" y="706.26" width="26" height="2.90" fill="#fb969b"/><rect x="932.2" y="708.76" width="26" height="2.90" fill="#fc9ca1"/><rect x="932.2" y="711.27" width="26" height="2.90" fill="#fca2a7"/><rect x="932.2" y="713.77" width="26" height="2.90" fill="#fca8ad"/><rect x="932.2" y="716.27" width="26" height="2.90" fill="#fdafb3"/><rect x="932.2" y="718.78" width="26" height="2.90" fill="#fdb5b9"/><rect x="932.2" y="721.28" width="26" height="2.90" fill="#fdbec1"/><rect x="932.2" y="723.78" width="26" height="2.90" fill="#fdc7ca"/><rect x="932.2" y="726.28" width="26" height="2.90" fill="#fecfd2"/><rect x="932.2" y="728.79" width="26" height="2.90" fill="#fed8da"/><rect x="932.2" y="731.29" width="26" height="2.90" fill="#fee1e2"/><rect x="932.2" y="733.79" width="26" height="2.90" fill="#fee9ea"/><rect x="932.2" y="736.29" width="26" height="2.90" fill="#fff2f3"/><rect x="932.2" y="738.80" width="26" height="2.90" fill="#fffbfb"/><rect x="932.2" y="741.30" width="26" height="2.90" fill="#fcfcfe"/><rect x="932.2" y="743.80" width="26" height="2.90" fill="#f5f5fb"/><rect x="932.2" y="746.31" width="26" height="2.90" fill="#efeff9"/><rect x="932.2" y="748.81" width="26" height="2.90" fill="#e9e8f6"/><rect x="932.2" y="751.31" width="26" height="2.90" fill="#e2e1f4"/><rect x="932.2" y="753.81" width="26" height="2.90" fill="#dcdbf2"/><rect x="932.2" y="756.32" width="26" height="2.90" fill="#d6d4ef"/><rect x="932.2" y="758.82" width="26" height="2.90" fill="#cfceed"/><rect x="932.2" y="761.32" width="26" height="2.90" fill="#c9c7ea"/><rect x="932.2" y="763.83" width="26" height="2.90" fill="#c2c0e7"/><rect x="932.2" y="766.33" width="26" height="2.90" fill="#bcb9e4"/><rect x="932.2" y="768.83" width="26" height="2.90" fill="#b5b2e1"/><rect x="932.2" y="771.33" width="26" height="2.90" fill="#aeacde"/><rect x="932.2" y="773.84" width="26" height="2.90" fill="#a8a5da"/><rect x="932.2" y="776.34" width="26" height="2.90" fill="#a19ed7"/><rect x="932.2" y="778.84" width="26" height="2.90" fill="#9b97d4"/><rect x="932.2" y="781.34" width="26" height="2.90" fill="#9490d1"/><rect x="932.2" y="783.85" width="26" height="2.90" fill="#8d89ce"/><rect x="932.2" y="786.35" width="26" height="2.90" fill="#8782ca"/><rect x="932.2" y="788.85" width="26" height="2.90" fill="#807bc6"/><rect x="932.2" y="791.36" width="26" height="2.90" fill="#7973c2"/><rect x="932.2" y="793.86" width="26" height="2.90" fill="#726bbe"/><rect x="932.2" y="796.36" width="26" height="2.90" fill="#6b64ba"/><rect x="932.2" y="798.86" width="26" height="2.90" fill="#645cb6"/><rect x="932.2" y="801.37" width="26" height="2.90" fill="#5d55b2"/><rect x="932.2" y="803.87" width="26" height="2.90" fill="#574dad"/><rect x="932.2" y="806.37" width="26" height="2.90" fill="#5045a9"/><rect x="932.2" y="808.88" width="26" height="2.90" fill="#493ea5"/><rect x="932.2" y="811.38" width="26" height="2.90" fill="#4236a1"/><rect x="932.2" y="813.88" width="26" height="2.90" fill="#3e339a"/><rect x="932.2" y="816.38" width="26" height="2.90" fill="#3c3391"/><rect x="932.2" y="818.89" width="26" height="2.90" fill="#393288"/><rect x="932.2" y="821.39" width="26" height="2.90" fill="#37317f"/><rect x="932.2" y="823.89" width="26" height="2.90" fill="#343076"/><rect x="932.2" y="826.39" width="26" height="2.90" fill="#322f6d"/><rect x="932.2" y="828.90" width="26" height="2.90" fill="#2f2e64"/></g>
<rect x="932.2" y="651.2" width="26" height="180.2" fill="none" stroke="#222" stroke-width="1.2"/>
<path d="M958.4 651.2h4.6M958.4 696.4h4.6M958.4 741.3h4.6M958.4 786.0h4.6M958.4 831.0h4.6" stroke="#222" stroke-width="1.3" fill="none"/>
<text x="965.3" y="658.2" font-size="20.3" stroke="#000">70</text>
<text x="965.3" y="703.4" font-size="20.3" stroke="#000">6.26</text>
<text x="965.3" y="748.3" font-size="20.3" stroke="#000">0.59</text>
<text x="965.3" y="793.0" font-size="20.3" stroke="#000">0.05</text>
<text x="965.3" y="838.0" font-size="20.3" stroke="#000">0</text>
</g>
<g id="panelE">
<text x="1105.2" y="588.8" font-size="59.5" font-weight="bold" stroke="#000" textLength="33.2" lengthAdjust="spacingAndGlyphs">E</text>
<g stroke="#000" stroke-width="1.5">
<rect x="1353.4" y="594.80" width="212.0" height="12.4" fill="#4d6fc0"/>
<rect x="1353.4" y="616.66" width="216.0" height="12.4" fill="#4d6fc0"/>
<rect x="1353.4" y="638.51" width="219.9" height="12.4" fill="#4d6fc0"/>
<rect x="1353.4" y="660.37" width="223.9" height="12.4" fill="#4d6fc0"/>
<rect x="1353.4" y="682.22" width="227.2" height="12.4" fill="#4d6fc0"/>
<rect x="1353.4" y="704.08" width="227.8" height="12.4" fill="#4d6fc0"/>
<rect x="1353.4" y="725.94" width="231.8" height="12.4" fill="#4d6fc0"/>
<rect x="1353.4" y="747.79" width="232.5" height="12.4" fill="#4d6fc0"/>
<rect x="1353.4" y="769.65" width="242.3" height="12.4" fill="#4d6fc0"/>
<rect x="1353.4" y="791.51" width="243.0" height="12.4" fill="#4d6fc0"/>
<rect x="1353.4" y="813.36" width="244.0" height="12.4" fill="#4d6fc0"/>
<rect x="1353.4" y="835.22" width="245.6" height="12.4" fill="#4d6fc0"/>
<rect x="1353.4" y="857.07" width="245.6" height="12.4" fill="#4d6fc0"/>
<rect x="1353.4" y="878.93" width="258.1" height="12.4" fill="#4d6fc0"/>
<rect x="1353.4" y="900.79" width="258.8" height="12.4" fill="#4d6fc0"/>
<rect x="1353.4" y="922.64" width="260.1" height="12.4" fill="#4d6fc0"/>
<rect x="1353.4" y="944.50" width="262.4" height="12.4" fill="#4d6fc0"/>
<rect x="1353.4" y="966.36" width="262.7" height="12.4" fill="#4d6fc0"/>
<rect x="1353.4" y="988.21" width="269.3" height="12.4" fill="#4d6fc0"/>
<rect x="1353.4" y="1010.07" width="276.6" height="12.4" fill="#4d6fc0"/>
<rect x="1353.4" y="1031.92" width="281.8" height="12.4" fill="#4d6fc0"/>
<rect x="1353.4" y="1053.78" width="308.2" height="12.4" fill="#4d6fc0"/>
<rect x="1353.4" y="1075.64" width="308.8" height="12.4" fill="#4d6fc0"/>
<rect x="1353.4" y="1097.49" width="311.5" height="12.4" fill="#4d6fc0"/>
<rect x="1353.4" y="1119.35" width="211.7" height="12.4" fill="#a0302c"/>
<rect x="1353.4" y="1141.21" width="212.0" height="12.4" fill="#a0302c"/>
<rect x="1353.4" y="1163.06" width="214.0" height="12.4" fill="#a0302c"/>
<rect x="1353.4" y="1184.92" width="214.7" height="12.4" fill="#a0302c"/>
<rect x="1353.4" y="1206.77" width="215.3" height="12.4" fill="#a0302c"/>
<rect x="1353.4" y="1228.63" width="218.0" height="12.4" fill="#a0302c"/>
<rect x="1353.4" y="1250.49" width="223.9" height="12.4" fill="#a0302c"/>
<rect x="1353.4" y="1272.34" width="226.5" height="12.4" fill="#a0302c"/>
<rect x="1353.4" y="1294.20" width="227.8" height="12.4" fill="#a0302c"/>
<rect x="1353.4" y="1316.06" width="228.8" height="12.4" fill="#a0302c"/>
<rect x="1353.4" y="1337.91" width="229.8" height="12.4" fill="#a0302c"/>
<rect x="1353.4" y="1359.77" width="229.8" height="12.4" fill="#a0302c"/>
<rect x="1353.4" y="1381.62" width="230.5" height="12.4" fill="#a0302c"/>
<rect x="1353.4" y="1403.48" width="232.5" height="12.4" fill="#a0302c"/>
<rect x="1353.4" y="1425.34" width="237.7" height="12.4" fill="#a0302c"/>
<rect x="1353.4" y="1447.19" width="238.4" height="12.4" fill="#a0302c"/>
<rect x="1353.4" y="1469.05" width="250.9" height="12.4" fill="#a0302c"/>
<rect x="1353.4" y="1490.91" width="250.9" height="12.4" fill="#a0302c"/>
<rect x="1353.4" y="1512.76" width="251.5" height="12.4" fill="#a0302c"/>
<rect x="1353.4" y="1534.62" width="254.8" height="12.4" fill="#a0302c"/>
<rect x="1353.4" y="1556.47" width="258.1" height="12.4" fill="#a0302c"/>
<rect x="1353.4" y="1578.33" width="272.0" height="12.4" fill="#a0302c"/>
<rect x="1353.4" y="1600.19" width="293.7" height="12.4" fill="#a0302c"/>
<rect x="1353.4" y="1622.04" width="323.7" height="12.4" fill="#a0302c"/>
<rect x="1353.4" y="1643.90" width="329.2" height="12.4" fill="#a0302c"/>
</g>
<path d="M1419.2 583.6V1668.1M1485.1 583.6V1668.1M1551.0 583.6V1668.1M1616.8 583.6V1668.1M1682.7 583.6V1668.1" stroke="#111" stroke-width="1.7" stroke-dasharray="2 5.3" fill="none"/>
<path d="M1353.4 601.00h8.5M1748.5 601.00h-8.5M1353.4 622.86h8.5M1748.5 622.86h-8.5M1353.4 644.71h8.5M1748.5 644.71h-8.5M1353.4 666.57h8.5M1748.5 666.57h-8.5M1353.4 688.42h8.5M1748.5 688.42h-8.5M1353.4 710.28h8.5M1748.5 710.28h-8.5M1353.4 732.14h8.5M1748.5 732.14h-8.5M1353.4 753.99h8.5M1748.5 753.99h-8.5M1353.4 775.85h8.5M1748.5 775.85h-8.5M1353.4 797.71h8.5M1748.5 797.71h-8.5M1353.4 819.56h8.5M1748.5 819.56h-8.5M1353.4 841.42h8.5M1748.5 841.42h-8.5M1353.4 863.27h8.5M1748.5 863.27h-8.5M1353.4 885.13h8.5M1748.5 885.13h-8.5M1353.4 906.99h8.5M1748.5 906.99h-8.5M1353.4 928.84h8.5M1748.5 928.84h-8.5M1353.4 950.70h8.5M1748.5 950.70h-8.5M1353.4 972.56h8.5M1748.5 972.56h-8.5M1353.4 994.41h8.5M1748.5 994.41h-8.5M1353.4 1016.27h8.5M1748.5 1016.27h-8.5M1353.4 1038.12h8.5M1748.5 1038.12h-8.5M1353.4 1059.98h8.5M1748.5 1059.98h-8.5M1353.4 1081.84h8.5M1748.5 1081.84h-8.5M1353.4 1103.69h8.5M1748.5 1103.69h-8.5M1353.4 1125.55h8.5M1748.5 1125.55h-8.5M1353.4 1147.41h8.5M1748.5 1147.41h-8.5M1353.4 1169.26h8.5M1748.5 1169.26h-8.5M1353.4 1191.12h8.5M1748.5 1191.12h-8.5M1353.4 1212.97h8.5M1748.5 1212.97h-8.5M1353.4 1234.83h8.5M1748.5 1234.83h-8.5M1353.4 1256.69h8.5M1748.5 1256.69h-8.5M1353.4 1278.54h8.5M1748.5 1278.54h-8.5M1353.4 1300.40h8.5M1748.5 1300.40h-8.5M1353.4 1322.26h8.5M1748.5 1322.26h-8.5M1353.4 1344.11h8.5M1748.5 1344.11h-8.5M1353.4 1365.97h8.5M1748.5 1365.97h-8.5M1353.4 1387.82h8.5M1748.5 1387.82h-8.5M1353.4 1409.68h8.5M1748.5 1409.68h-8.5M1353.4 1431.54h8.5M1748.5 1431.54h-8.5M1353.4 1453.39h8.5M1748.5 1453.39h-8.5M1353.4 1475.25h8.5M1748.5 1475.25h-8.5M1353.4 1497.11h8.5M1748.5 1497.11h-8.5M1353.4 1518.96h8.5M1748.5 1518.96h-8.5M1353.4 1540.82h8.5M1748.5 1540.82h-8.5M1353.4 1562.67h8.5M1748.5 1562.67h-8.5M1353.4 1584.53h8.5M1748.5 1584.53h-8.5M1353.4 1606.39h8.5M1748.5 1606.39h-8.5M1353.4 1628.24h8.5M1748.5 1628.24h-8.5M1353.4 1650.10h8.5M1748.5 1650.10h-8.5" stroke="#111" stroke-width="1.1" fill="none"/>
<rect x="1353.4" y="583.6" width="395.1" height="1084.5" fill="none" stroke="#000" stroke-width="1.9"/>
<text x="1345.2" y="606.3" font-size="16.5" text-anchor="end" font-style="italic" stroke="#000" textLength="100.0" lengthAdjust="spacingAndGlyphs">Pseudolabrys</text>
<text x="1345.2" y="628.2" font-size="16.5" text-anchor="end" font-style="italic" stroke="#000" textLength="143.1" lengthAdjust="spacingAndGlyphs">Xanthobacteraceae</text>
<text x="1345.2" y="650.0" font-size="16.5" text-anchor="end" font-style="italic" stroke="#000" textLength="110.0" lengthAdjust="spacingAndGlyphs">Massilistercora</text>
<text x="1345.2" y="671.9" font-size="16.5" text-anchor="end" font-style="italic" stroke="#000" textLength="44.9" lengthAdjust="spacingAndGlyphs">Dorea</text>
<text x="1345.2" y="693.7" font-size="16.5" text-anchor="end" font-style="italic" stroke="#000" textLength="128.4" lengthAdjust="spacingAndGlyphs">Burkholderiaceae</text>
<text x="1345.2" y="715.6" font-size="16.5" text-anchor="end" font-style="italic" stroke="#000" textLength="83.5" lengthAdjust="spacingAndGlyphs">Parvibacter</text>
<text x="1345.2" y="737.4" font-size="16.5" text-anchor="end" font-style="italic" stroke="#000" textLength="97.2" lengthAdjust="spacingAndGlyphs">Angelakisella</text>
<text x="1345.2" y="759.3" font-size="16.5" text-anchor="end" font-style="italic" stroke="#000" textLength="133.9" lengthAdjust="spacingAndGlyphs">Coriobacteriaceae</text>
<text x="1345.2" y="781.1" font-size="16.5" text-anchor="end" font-style="italic" stroke="#000" textLength="111.9" lengthAdjust="spacingAndGlyphs">Mesorhizobium</text>
<text x="1345.2" y="803.0" font-size="16.5" text-anchor="end" font-style="italic" stroke="#000" textLength="78.9" lengthAdjust="spacingAndGlyphs">Hungatella</text>
<text x="1345.2" y="824.9" font-size="16.5" text-anchor="end" font-style="italic" stroke="#000" textLength="132.1" lengthAdjust="spacingAndGlyphs">Anaplasmataceae</text>
<text x="1345.2" y="846.7" font-size="16.5" text-anchor="end" font-style="italic" stroke="#000" textLength="92.6" lengthAdjust="spacingAndGlyphs">Rickettsiales</text>
<text x="1345.2" y="868.6" font-size="16.5" text-anchor="end" font-style="italic" stroke="#000" textLength="77.0" lengthAdjust="spacingAndGlyphs">Wolbachia</text>
<text x="1345.2" y="890.4" font-size="16.5" text-anchor="end" font-style="italic" stroke="#000" textLength="100.3" lengthAdjust="spacingAndGlyphs">Vampirovibrio</text>
<text x="1345.2" y="912.3" font-size="16.5" text-anchor="end" font-style="italic" stroke="#000" textLength="100.0" lengthAdjust="spacingAndGlyphs">Schaedlerella</text>
<text x="1345.2" y="934.1" font-size="16.5" text-anchor="end" font-style="italic" stroke="#000" textLength="139.7" lengthAdjust="spacingAndGlyphs">Vampirovibrionales</text>
<text x="1345.2" y="956.0" font-size="16.5" text-anchor="end" font-style="italic" stroke="#000" textLength="209.1" lengthAdjust="spacingAndGlyphs">Candidatus_Melainabacteria</text>
<text x="1345.2" y="977.9" font-size="16.5" text-anchor="end" font-style="italic" stroke="#000" textLength="139.4" lengthAdjust="spacingAndGlyphs">Phyllobacteriaceae</text>
<text x="1345.2" y="999.7" font-size="16.5" text-anchor="end" font-style="italic" stroke="#000" textLength="89.9" lengthAdjust="spacingAndGlyphs">Longicatena</text>
<text x="1345.2" y="1021.6" font-size="16.5" text-anchor="end" font-style="italic" stroke="#000" textLength="94.5" lengthAdjust="spacingAndGlyphs">Lacrimispora</text>
<text x="1345.2" y="1043.4" font-size="16.5" text-anchor="end" font-style="italic" stroke="#000" textLength="50.5" lengthAdjust="spacingAndGlyphs">Blautia</text>
<text x="1345.2" y="1065.3" font-size="16.5" text-anchor="end" font-style="italic" stroke="#000" textLength="131.1" lengthAdjust="spacingAndGlyphs">Hyphomicrobiales</text>
<text x="1345.2" y="1087.1" font-size="16.5" text-anchor="end" font-style="italic" stroke="#000" textLength="125.7" lengthAdjust="spacingAndGlyphs">Lachnospiraceae</text>
<text x="1345.2" y="1109.0" font-size="16.5" text-anchor="end" font-style="italic" stroke="#000" textLength="147.7" lengthAdjust="spacingAndGlyphs">Alphaproteobacteria</text>
<text x="1345.2" y="1130.8" font-size="16.5" text-anchor="end" font-style="italic" stroke="#000" textLength="144.0" lengthAdjust="spacingAndGlyphs">Erysipelotrichaceae</text>
<text x="1345.2" y="1152.7" font-size="16.5" text-anchor="end" font-style="italic" stroke="#000" textLength="111.9" lengthAdjust="spacingAndGlyphs">Erysipelotrichia</text>
<text x="1345.2" y="1174.6" font-size="16.5" text-anchor="end" font-style="italic" stroke="#000" textLength="66.9" lengthAdjust="spacingAndGlyphs">Aminipila</text>
<text x="1345.2" y="1196.4" font-size="16.5" text-anchor="end" font-style="italic" stroke="#000" textLength="129.3" lengthAdjust="spacingAndGlyphs">Erysipelotrichales</text>
<text x="1345.2" y="1218.3" font-size="16.5" text-anchor="end" font-style="italic" stroke="#000" textLength="138.5" lengthAdjust="spacingAndGlyphs">Massilioclostridium</text>
<text x="1345.2" y="1240.1" font-size="16.5" text-anchor="end" font-style="italic" stroke="#000" textLength="88.6" lengthAdjust="spacingAndGlyphs">Turicimonas</text>
<text x="1345.2" y="1262.0" font-size="16.5" text-anchor="end" font-style="italic" stroke="#000" textLength="105.5" lengthAdjust="spacingAndGlyphs">Sutterellaceae</text>
<text x="1345.2" y="1283.8" font-size="16.5" text-anchor="end" font-style="italic" stroke="#000" textLength="115.6" lengthAdjust="spacingAndGlyphs">Faecalibaculum</text>
<text x="1345.2" y="1305.7" font-size="16.5" text-anchor="end" font-style="italic" stroke="#000" textLength="78.9" lengthAdjust="spacingAndGlyphs">Harryflintia</text>
<text x="1345.2" y="1327.6" font-size="16.5" text-anchor="end" font-style="italic" stroke="#000" textLength="101.8" lengthAdjust="spacingAndGlyphs">Parasutterella</text>
<text x="1345.2" y="1349.4" font-size="16.5" text-anchor="end" font-style="italic" stroke="#000" textLength="206.4" lengthAdjust="spacingAndGlyphs">Candidatus_Saccharimonas</text>
<text x="1345.2" y="1371.3" font-size="16.5" text-anchor="end" font-style="italic" stroke="#000" textLength="215.6" lengthAdjust="spacingAndGlyphs">Candidatus_Saccharibacteria</text>
<text x="1345.2" y="1393.1" font-size="16.5" text-anchor="end" font-style="italic" stroke="#000" textLength="89.9" lengthAdjust="spacingAndGlyphs">Phocaeicola</text>
<text x="1345.2" y="1415.0" font-size="16.5" text-anchor="end" font-style="italic" stroke="#000" textLength="105.4" lengthAdjust="spacingAndGlyphs">Butyricicoccus</text>
<text x="1345.2" y="1436.8" font-size="16.5" text-anchor="end" font-style="italic" stroke="#000" textLength="177.0" lengthAdjust="spacingAndGlyphs">Candidatus_Arthromitus</text>
<text x="1345.2" y="1458.7" font-size="16.5" text-anchor="end" font-style="italic" stroke="#000" textLength="106.4" lengthAdjust="spacingAndGlyphs">Caproicibacter</text>
<text x="1345.2" y="1480.5" font-size="16.5" text-anchor="end" font-style="italic" stroke="#000" textLength="99.0" lengthAdjust="spacingAndGlyphs">Clostridioides</text>
<text x="1345.2" y="1502.4" font-size="16.5" text-anchor="end" font-style="italic" stroke="#000" textLength="172.4" lengthAdjust="spacingAndGlyphs">Peptostreptococcaceae</text>
<text x="1345.2" y="1524.3" font-size="16.5" text-anchor="end" font-style="italic" stroke="#000" textLength="137.6" lengthAdjust="spacingAndGlyphs">Caproiciproducens</text>
<text x="1345.2" y="1546.1" font-size="16.5" text-anchor="end" font-style="italic" stroke="#000" textLength="95.4" lengthAdjust="spacingAndGlyphs">Acutalibacter</text>
<text x="1345.2" y="1568.0" font-size="16.5" text-anchor="end" font-style="italic" stroke="#000" textLength="73.4" lengthAdjust="spacingAndGlyphs">Prevotella</text>
<text x="1345.2" y="1589.8" font-size="16.5" text-anchor="end" font-style="italic" stroke="#000" textLength="196.3" lengthAdjust="spacingAndGlyphs">Candidatus_Amulumruptor</text>
<text x="1345.2" y="1611.7" font-size="16.5" text-anchor="end" font-style="italic" stroke="#000" textLength="86.2" lengthAdjust="spacingAndGlyphs">Duncaniella</text>
<text x="1345.2" y="1633.5" font-size="16.5" text-anchor="end" font-style="italic" fill="#e8392b" stroke="#e8392b" textLength="158.7" lengthAdjust="spacingAndGlyphs">Anaeromassilibacillus</text>
<text x="1345.2" y="1655.4" font-size="16.5" text-anchor="end" font-style="italic" fill="#e8392b" stroke="#e8392b" textLength="121.1" lengthAdjust="spacingAndGlyphs">Oscillospiraceae</text>
<text x="1354.8" y="1696.0" font-size="28" text-anchor="middle" stroke="#000">0</text>
<text x="1420.0" y="1696.0" font-size="28" text-anchor="middle" stroke="#000">1</text>
<text x="1485.2" y="1696.0" font-size="28" text-anchor="middle" stroke="#000">2</text>
<text x="1550.4" y="1696.0" font-size="28" text-anchor="middle" stroke="#000">3</text>
<text x="1615.6" y="1696.0" font-size="28" text-anchor="middle" stroke="#000">4</text>
<text x="1680.8" y="1696.0" font-size="28" text-anchor="middle" stroke="#000">5</text>
<text x="1746.0" y="1696.0" font-size="28" text-anchor="middle" stroke="#000">6</text>
<text x="1552.2" y="1727.8" font-size="28.5" text-anchor="middle" stroke="#000" textLength="271.5" lengthAdjust="spacingAndGlyphs">LDA SCORE (log 10)</text>
<rect x="1779.6" y="594.2" width="37.4" height="13.8" fill="#4d6fc0" stroke="#000" stroke-width="1.5"/>
<rect x="1779.6" y="632.0" width="37.4" height="13.0" fill="#a0302c" stroke="#000" stroke-width="1.5"/>
<text x="1824.8" y="611.0" font-size="29" stroke="#000" textLength="112.8" lengthAdjust="spacingAndGlyphs">WT-EAH</text>
<g transform="translate(1825.0 648.0) scale(0.9173 1)" stroke="#000">
<text x="0" y="0" font-size="29" font-style="italic">Pigr</text>
<text x="52.2" y="-11.2" font-size="15.08" font-style="italic" stroke-width="0.5" textLength="12.1" lengthAdjust="spacingAndGlyphs">-/-</text>
<text x="64.3" y="0" font-size="29">-EAH</text>
</g>
</g>
<g id="panelF">
<text x="57.2" y="1272.0" font-size="59.5" font-weight="bold" stroke="#000" textLength="31.6" lengthAdjust="spacingAndGlyphs">F</text>
<path d="M531.31 1264.19A417.00 417.00 0 0 0 382.20 1262.50L436.98 1584.68A90.20 90.20 0 0 1 469.23 1585.04Z" fill="rgba(178,69,28,0.22)"/>
<path d="M509.28 1378.08A301.00 301.00 0 0 0 401.64 1376.86L407.01 1408.41A269.00 269.00 0 0 1 503.20 1409.50Z" fill="rgba(181,94,72,0.30)"/>
<path d="M403.72 1376.51A301.00 301.00 0 0 0 329.67 1398.62L342.69 1427.86A269.00 269.00 0 0 1 408.86 1408.10Z" fill="rgba(178,69,28,0.22)"/>
<path d="M331.59 1397.77A301.00 301.00 0 0 0 297.75 1415.19L314.16 1442.66A269.00 269.00 0 0 1 344.41 1427.10Z" fill="rgba(178,69,28,0.22)"/>
<path d="M269.41 1434.39A301.00 301.00 0 0 0 238.63 1461.39L261.32 1483.95A269.00 269.00 0 0 1 288.83 1459.82Z" fill="rgba(178,69,28,0.22)"/>
<path d="M240.12 1459.91A301.00 301.00 0 0 0 200.96 1507.69L227.66 1525.32A269.00 269.00 0 0 1 262.65 1482.63Z" fill="rgba(178,69,28,0.22)"/>
<path d="M655.84 1452.03A301.00 301.00 0 0 0 598.03 1410.34L582.51 1438.33A269.00 269.00 0 0 1 634.18 1475.59Z" fill="rgba(178,69,28,0.22)"/>
<path d="M682.68 1480.12A301.00 301.00 0 0 0 654.29 1450.62L632.79 1474.32A269.00 269.00 0 0 1 658.17 1500.69Z" fill="rgba(178,69,28,0.22)"/>
<path d="M715.11 1527.21A301.00 301.00 0 0 0 681.32 1478.52L656.95 1499.26A269.00 269.00 0 0 1 687.14 1542.78Z" fill="rgba(178,69,28,0.22)"/>
<path d="M746.02 1608.71A301.00 301.00 0 0 0 714.08 1525.38L686.23 1541.14A269.00 269.00 0 0 1 714.77 1615.61Z" fill="rgba(178,69,28,0.22)"/>
<path d="M121.90 1673.31A330.20 330.20 0 0 0 216.02 1904.46L290.80 1831.33A225.60 225.60 0 0 1 226.50 1673.40Z" fill="rgba(178,69,28,0.22)"/>
<path d="M151.10 1673.34A301.00 301.00 0 0 0 155.23 1723.28L186.79 1718.00A269.00 269.00 0 0 1 183.10 1673.37Z" fill="rgba(181,94,72,0.30)"/>
<path d="M154.89 1721.21A301.00 301.00 0 0 0 163.35 1758.58L194.04 1749.55A269.00 269.00 0 0 1 186.49 1716.14Z" fill="rgba(181,94,72,0.30)"/>
<path d="M174.68 1790.39A301.00 301.00 0 0 0 191.61 1824.42L219.30 1808.38A269.00 269.00 0 0 1 204.17 1777.97Z" fill="rgba(181,94,72,0.30)"/>
<path d="M190.56 1822.60A301.00 301.00 0 0 0 211.55 1854.54L237.13 1835.30A269.00 269.00 0 0 1 218.37 1806.76Z" fill="rgba(181,94,72,0.30)"/>
<path d="M210.30 1852.85A301.00 301.00 0 0 0 236.90 1884.05L259.78 1861.68A269.00 269.00 0 0 1 236.00 1833.80Z" fill="rgba(181,94,72,0.30)"/>
<path d="M214.41 1902.81A330.20 330.20 0 0 0 258.25 1940.91L319.65 1856.23A225.60 225.60 0 0 1 289.71 1830.20Z" fill="rgba(178,69,28,0.22)"/>
<path d="M235.43 1882.54A301.00 301.00 0 0 0 275.39 1917.27L294.18 1891.36A269.00 269.00 0 0 1 258.47 1860.33Z" fill="rgba(181,94,72,0.30)"/>
<path d="M315.23 2037.73A389.00 389.00 0 0 0 480.25 2061.58L461.89 1808.55A135.30 135.30 0 0 1 404.50 1800.25Z" fill="rgba(178,69,28,0.22)"/>
<path d="M325.61 2010.11A359.50 359.50 0 0 0 478.12 2032.16L465.16 1853.53A180.40 180.40 0 0 1 388.63 1842.47Z" fill="rgba(181,94,72,0.30)"/>
<path d="M335.92 1982.69A330.20 330.20 0 0 0 476.00 2002.93L468.43 1898.61A225.60 225.60 0 0 1 372.72 1884.78Z" fill="rgba(174,85,52,0.30)"/>
<path d="M346.20 1955.35A301.00 301.00 0 0 0 416.72 1972.51L420.48 1940.74A269.00 269.00 0 0 1 357.45 1925.40Z" fill="rgba(170,67,51,0.30)"/>
<path d="M741.18 1833.18A330.20 330.20 0 0 0 772.49 1753.48L671.00 1728.18A225.60 225.60 0 0 1 649.60 1782.63Z" fill="rgba(178,69,28,0.22)"/>
<path d="M715.61 1819.07A301.00 301.00 0 0 0 738.93 1764.86L708.44 1755.16A269.00 269.00 0 0 1 687.60 1803.60Z" fill="rgba(181,94,72,0.30)"/>
<path d="M743.43 1749.27A301.00 301.00 0 0 0 743.95 1747.23L712.93 1739.41A269.00 269.00 0 0 1 712.46 1741.22Z" fill="rgba(181,94,72,0.30)"/>
<path d="M656.81 1310.30A417.00 417.00 0 0 0 528.45 1263.65L468.62 1584.92A90.20 90.20 0 0 1 496.38 1595.02Z" fill="rgba(100,110,222,0.20)"/>
<path d="M628.58 1360.40A359.50 359.50 0 0 0 517.92 1320.18L485.13 1496.25A180.40 180.40 0 0 1 540.66 1516.43Z" fill="rgba(141,153,220,0.30)"/>
<path d="M599.86 1411.36A301.00 301.00 0 0 0 507.21 1377.69L501.35 1409.15A269.00 269.00 0 0 1 584.15 1439.24Z" fill="rgba(122,134,203,0.30)"/>
<path d="M299.56 1414.12A301.00 301.00 0 0 0 267.74 1435.67L287.34 1460.96A269.00 269.00 0 0 1 315.77 1441.70Z" fill="rgba(100,110,222,0.20)"/>
<path d="M177.87 1489.67A330.20 330.20 0 0 0 121.91 1675.62L226.50 1674.98A225.60 225.60 0 0 1 264.74 1547.94Z" fill="rgba(100,110,222,0.20)"/>
<path d="M202.12 1505.94A301.00 301.00 0 0 0 174.21 1557.93L203.76 1570.22A269.00 269.00 0 0 1 228.70 1523.76Z" fill="rgba(141,153,220,0.30)"/>
<path d="M175.03 1555.99A301.00 301.00 0 0 0 162.33 1592.15L193.14 1600.81A269.00 269.00 0 0 1 204.48 1568.49Z" fill="rgba(141,153,220,0.30)"/>
<path d="M162.91 1590.13A301.00 301.00 0 0 0 154.64 1627.55L186.27 1632.45A269.00 269.00 0 0 1 193.65 1599.00Z" fill="rgba(141,153,220,0.30)"/>
<path d="M154.97 1625.48A301.00 301.00 0 0 0 151.11 1675.44L183.11 1675.24A269.00 269.00 0 0 1 186.56 1630.59Z" fill="rgba(141,153,220,0.30)"/>
<path d="M162.76 1756.57A301.00 301.00 0 0 0 175.50 1792.32L204.91 1779.70A269.00 269.00 0 0 1 193.52 1747.75Z" fill="rgba(100,110,222,0.20)"/>
<path d="M273.69 1916.03A301.00 301.00 0 0 0 348.17 1956.09L359.21 1926.05A269.00 269.00 0 0 1 292.66 1890.26Z" fill="rgba(100,110,222,0.20)"/>
<path d="M414.64 1972.26A301.00 301.00 0 0 0 473.88 1973.81L471.57 1941.89A269.00 269.00 0 0 1 418.62 1940.51Z" fill="rgba(110,60,140,0.25)"/>
<path d="M477.54 2061.77A389.00 389.00 0 0 0 730.98 1944.80L549.10 1767.93A135.30 135.30 0 0 1 460.95 1808.61Z" fill="rgba(100,110,222,0.20)"/>
<path d="M475.61 2032.33A359.50 359.50 0 0 0 633.37 1984.05L543.06 1829.39A180.40 180.40 0 0 1 463.90 1853.61Z" fill="rgba(141,153,220,0.30)"/>
<path d="M631.20 1985.31A359.50 359.50 0 0 0 709.83 1924.23L581.43 1799.37A180.40 180.40 0 0 1 541.97 1830.02Z" fill="rgba(141,153,220,0.30)"/>
<path d="M473.70 2003.09A330.20 330.20 0 0 0 550.57 1988.78L519.38 1888.94A225.60 225.60 0 0 1 466.85 1898.72Z" fill="rgba(122,134,203,0.30)"/>
<path d="M548.37 1989.46A330.20 330.20 0 0 0 618.60 1958.75L565.85 1868.42A225.60 225.60 0 0 1 517.87 1889.40Z" fill="rgba(122,134,203,0.30)"/>
<path d="M616.60 1959.91A330.20 330.20 0 0 0 688.82 1903.80L613.84 1830.88A225.60 225.60 0 0 1 564.49 1869.21Z" fill="rgba(122,134,203,0.30)"/>
<path d="M471.79 1973.96A301.00 301.00 0 0 0 541.86 1960.90L532.32 1930.36A269.00 269.00 0 0 1 469.69 1942.02Z" fill="rgba(109,126,202,0.30)"/>
<path d="M539.85 1961.52A301.00 301.00 0 0 0 603.87 1933.54L587.74 1905.90A269.00 269.00 0 0 1 530.52 1930.91Z" fill="rgba(109,126,202,0.30)"/>
<path d="M602.05 1934.59A301.00 301.00 0 0 0 667.89 1883.45L644.95 1861.14A269.00 269.00 0 0 1 586.11 1906.84Z" fill="rgba(109,126,202,0.30)"/>
<path d="M687.21 1905.45A330.20 330.20 0 0 0 742.29 1831.16L650.36 1781.25A225.60 225.60 0 0 1 612.73 1832.01Z" fill="rgba(100,110,222,0.20)"/>
<path d="M781.78 1655.00A330.20 330.20 0 0 0 781.64 1652.69L722.36 1656.45A270.80 270.80 0 0 1 722.47 1658.34Z" fill="rgba(100,110,222,0.20)"/>
<path d="M752.62 1656.64A301.00 301.00 0 0 0 752.50 1654.54L722.36 1656.45A270.80 270.80 0 0 1 722.47 1658.34Z" fill="rgba(100,110,222,0.20)"/>
<path d="M406.90 1673.60L361.90 1673.60M542.14 1668.25L587.15 1665.46M587.15 1665.46L632.19 1663.03M632.19 1663.03L677.30 1660.14M518.60 1612.66L553.20 1583.68M553.20 1583.68L589.48 1556.68M589.48 1556.68L627.67 1531.93M592.35 1496.90L620.49 1461.52M627.67 1531.93L648.01 1486.65M627.67 1531.93L669.31 1511.88M661.49 1589.64L703.39 1572.68M482.65 1588.73L498.38 1546.46M498.38 1546.46L513.80 1504.08M513.80 1504.08L529.26 1461.61M529.26 1461.61L544.72 1419.13M454.46 1583.43L455.41 1538.34M455.41 1538.34L456.66 1493.26M456.66 1493.26L458.01 1448.08M458.01 1448.08L459.38 1402.90M363.51 1690.58L319.22 1699.07M316.87 1669.35L271.94 1664.32M271.94 1664.32L226.80 1661.99M341.01 1477.25L357.71 1419.78M341.01 1477.25L328.32 1432.75M341.01 1477.25L300.28 1449.36M341.01 1477.25L274.26 1469.38M281.97 1525.44L248.04 1495.58M242.56 1757.20L196.99 1764.44M338.04 1868.24L314.94 1907.10M420.39 1896.96L435.57 1943.89M518.60 1734.54L551.85 1765.01M577.46 1724.50L617.79 1744.96M617.79 1744.96L659.30 1762.84M634.31 1806.62L670.88 1833.19" stroke="#000" stroke-width="1.5" fill="none"/>
<path d="M542.14 1668.25A90.20 90.20 0 1 0 518.60 1734.54M316.87 1669.35A135.30 135.30 0 0 0 439.13 1808.28M518.11 1791.71A135.30 135.30 0 0 0 577.46 1724.50M341.01 1477.25A225.60 225.60 0 0 0 338.04 1868.24M661.49 1589.64A225.60 225.60 0 0 0 592.35 1496.90M634.31 1806.62A225.60 225.60 0 0 0 665.54 1746.68" stroke="#000" stroke-width="4.4" fill="none"/>
<path d="M677.30 1660.14L722.41 1657.40M236.42 1607.45L209.12 1554.04M236.42 1607.45L196.61 1583.83M236.42 1607.45L187.67 1615.22M236.42 1607.45L182.57 1647.36M518.11 1791.71L540.11 1831.08M561.17 1817.29L588.62 1853.20M588.62 1853.20L616.05 1889.13M516.46 1842.13L532.58 1884.36M539.70 1881.50L557.47 1923.06M497.08 1894.67L505.63 1939.06" stroke="#000" stroke-width="6.8" fill="none"/>
<path d="M677.30 1660.14L722.41 1657.40M236.42 1607.45L209.12 1554.04M236.42 1607.45L196.61 1583.83M236.42 1607.45L187.67 1615.22M236.42 1607.45L182.57 1647.36M518.11 1791.71L540.11 1831.08M561.17 1817.29L588.62 1853.20M588.62 1853.20L616.05 1889.13M516.46 1842.13L532.58 1884.36M539.70 1881.50L557.47 1923.06M497.08 1894.67L505.63 1939.06M516.46 1842.13A180.40 180.40 0 0 0 561.17 1817.29M497.08 1894.67A225.60 225.60 0 0 0 539.70 1881.50" stroke="#4d6fc4" stroke-width="3.9" fill="none" stroke-linecap="butt"/>
<path d="M242.56 1757.20L182.72 1701.25M242.56 1757.20L187.98 1733.36M242.56 1757.20L209.58 1794.09M242.56 1757.20L225.82 1822.35M242.56 1757.20L245.20 1848.32M301.73 1841.78L271.39 1875.29M439.13 1808.28L431.15 1852.78M431.15 1852.78L420.39 1896.96M420.39 1896.96L403.22 1939.95M665.54 1746.68L704.33 1772.14M665.54 1746.68L714.44 1740.76" stroke="#000" stroke-width="6.8" fill="none"/>
<path d="M242.56 1757.20L182.72 1701.25M242.56 1757.20L187.98 1733.36M242.56 1757.20L209.58 1794.09M242.56 1757.20L225.82 1822.35M242.56 1757.20L245.20 1848.32M301.73 1841.78L271.39 1875.29M439.13 1808.28L431.15 1852.78M431.15 1852.78L420.39 1896.96M420.39 1896.96L403.22 1939.95M665.54 1746.68L704.33 1772.14M665.54 1746.68L714.44 1740.76" stroke="#a0302c" stroke-width="3.9" fill="none" stroke-linecap="butt"/>
<circle cx="452.1" cy="1673.6" r="1.3" fill="#bdb62a"/>
<circle cx="406.90" cy="1673.60" r="7.2" fill="#bdb62a" stroke="#5a5a14" stroke-width="0.6"/>
<circle cx="542.14" cy="1668.25" r="6.4" fill="#bdb62a" stroke="#5a5a14" stroke-width="0.6"/>
<circle cx="518.60" cy="1612.66" r="8.0" fill="#bdb62a" stroke="#5a5a14" stroke-width="0.6"/>
<circle cx="482.65" cy="1588.73" r="4.3" fill="#4d6fc4" stroke="#000" stroke-width="1.7"/>
<circle cx="454.46" cy="1583.43" r="6.5" fill="#a0302c" stroke="#000" stroke-width="1.7"/>
<circle cx="363.51" cy="1690.58" r="6.0" fill="#bdb62a" stroke="#5a5a14" stroke-width="0.6"/>
<circle cx="518.60" cy="1734.54" r="7.2" fill="#bdb62a" stroke="#5a5a14" stroke-width="0.6"/>
<circle cx="587.15" cy="1665.46" r="5.9" fill="#bdb62a" stroke="#5a5a14" stroke-width="0.6"/>
<circle cx="553.20" cy="1583.68" r="7.7" fill="#bdb62a" stroke="#5a5a14" stroke-width="0.6"/>
<circle cx="498.38" cy="1546.46" r="4.9" fill="#bdb62a" stroke="#5a5a14" stroke-width="0.6"/>
<circle cx="455.41" cy="1538.34" r="7.0" fill="#bdb62a" stroke="#5a5a14" stroke-width="0.6"/>
<circle cx="316.87" cy="1669.35" r="5.8" fill="#bdb62a" stroke="#5a5a14" stroke-width="0.6"/>
<circle cx="439.13" cy="1808.28" r="6.4" fill="#a0302c" stroke="#000" stroke-width="1.7"/>
<circle cx="577.46" cy="1724.50" r="7.2" fill="#bdb62a" stroke="#5a5a14" stroke-width="0.6"/>
<circle cx="518.11" cy="1791.71" r="8.1" fill="#4d6fc4" stroke="#000" stroke-width="1.7"/>
<circle cx="632.19" cy="1663.03" r="5.9" fill="#bdb62a" stroke="#5a5a14" stroke-width="0.6"/>
<circle cx="589.48" cy="1556.68" r="7.9" fill="#bdb62a" stroke="#5a5a14" stroke-width="0.6"/>
<circle cx="513.80" cy="1504.08" r="4.7" fill="#4d6fc4" stroke="#000" stroke-width="1.7"/>
<circle cx="456.66" cy="1493.26" r="7.0" fill="#bdb62a" stroke="#5a5a14" stroke-width="0.6"/>
<circle cx="271.94" cy="1664.32" r="5.8" fill="#bdb62a" stroke="#5a5a14" stroke-width="0.6"/>
<circle cx="431.15" cy="1852.78" r="6.2" fill="#a0302c" stroke="#000" stroke-width="1.7"/>
<circle cx="617.79" cy="1744.96" r="7.2" fill="#bdb62a" stroke="#5a5a14" stroke-width="0.6"/>
<circle cx="561.17" cy="1817.29" r="7.3" fill="#4d6fc4" stroke="#000" stroke-width="1.7"/>
<circle cx="516.46" cy="1842.13" r="8.3" fill="#4d6fc4" stroke="#000" stroke-width="1.7"/>
<circle cx="677.30" cy="1660.14" r="5.5" fill="#4d6fc4" stroke="#000" stroke-width="1.7"/>
<circle cx="592.35" cy="1496.90" r="7.4" fill="#bdb62a" stroke="#5a5a14" stroke-width="0.6"/>
<circle cx="627.67" cy="1531.93" r="7.5" fill="#bdb62a" stroke="#5a5a14" stroke-width="0.6"/>
<circle cx="661.49" cy="1589.64" r="6.7" fill="#bdb62a" stroke="#5a5a14" stroke-width="0.6"/>
<circle cx="529.26" cy="1461.61" r="4.8" fill="#bdb62a" stroke="#5a5a14" stroke-width="0.6"/>
<circle cx="458.01" cy="1448.08" r="7.1" fill="#bdb62a" stroke="#5a5a14" stroke-width="0.6"/>
<circle cx="341.01" cy="1477.25" r="6.2" fill="#bdb62a" stroke="#5a5a14" stroke-width="0.6"/>
<circle cx="281.97" cy="1525.44" r="6.7" fill="#bdb62a" stroke="#5a5a14" stroke-width="0.6"/>
<circle cx="236.42" cy="1607.45" r="8.0" fill="#4d6fc4" stroke="#000" stroke-width="1.7"/>
<circle cx="242.56" cy="1757.20" r="8.0" fill="#a0302c" stroke="#000" stroke-width="1.7"/>
<circle cx="301.73" cy="1841.78" r="6.6" fill="#a0302c" stroke="#000" stroke-width="1.7"/>
<circle cx="338.04" cy="1868.24" r="6.2" fill="#bdb62a" stroke="#5a5a14" stroke-width="0.6"/>
<circle cx="420.39" cy="1896.96" r="6.2" fill="#a0302c" stroke="#000" stroke-width="1.7"/>
<circle cx="665.54" cy="1746.68" r="7.3" fill="#a0302c" stroke="#000" stroke-width="1.7"/>
<circle cx="634.31" cy="1806.62" r="6.8" fill="#4d6fc4" stroke="#000" stroke-width="1.7"/>
<circle cx="588.62" cy="1853.20" r="7.1" fill="#4d6fc4" stroke="#000" stroke-width="1.7"/>
<circle cx="539.70" cy="1881.50" r="6.2" fill="#4d6fc4" stroke="#000" stroke-width="1.7"/>
<circle cx="497.08" cy="1894.67" r="7.3" fill="#4d6fc4" stroke="#000" stroke-width="1.7"/>
<circle cx="722.41" cy="1657.40" r="5.5" fill="#4d6fc4" stroke="#000" stroke-width="1.7"/>
<circle cx="703.39" cy="1572.68" r="6.4" fill="#a0302c" stroke="#000" stroke-width="1.7"/>
<circle cx="669.31" cy="1511.88" r="7.3" fill="#a0302c" stroke="#000" stroke-width="1.7"/>
<circle cx="648.01" cy="1486.65" r="7.9" fill="#a0302c" stroke="#000" stroke-width="1.7"/>
<circle cx="620.49" cy="1461.52" r="7.3" fill="#a0302c" stroke="#000" stroke-width="1.7"/>
<circle cx="544.72" cy="1419.13" r="4.4" fill="#4d6fc4" stroke="#000" stroke-width="1.7"/>
<circle cx="459.38" cy="1402.90" r="7.1" fill="#a0302c" stroke="#000" stroke-width="1.7"/>
<circle cx="357.71" cy="1419.78" r="5.9" fill="#a0302c" stroke="#000" stroke-width="1.7"/>
<circle cx="328.32" cy="1432.75" r="5.6" fill="#a0302c" stroke="#000" stroke-width="1.7"/>
<circle cx="300.28" cy="1449.36" r="7.0" fill="#4d6fc4" stroke="#000" stroke-width="1.7"/>
<circle cx="274.26" cy="1469.38" r="6.6" fill="#a0302c" stroke="#000" stroke-width="1.7"/>
<circle cx="248.04" cy="1495.58" r="6.6" fill="#a0302c" stroke="#000" stroke-width="1.7"/>
<circle cx="209.12" cy="1554.04" r="8.0" fill="#4d6fc4" stroke="#000" stroke-width="1.7"/>
<circle cx="196.61" cy="1583.83" r="5.6" fill="#4d6fc4" stroke="#000" stroke-width="1.7"/>
<circle cx="187.67" cy="1615.22" r="7.1" fill="#4d6fc4" stroke="#000" stroke-width="1.7"/>
<circle cx="182.57" cy="1647.36" r="6.9" fill="#4d6fc4" stroke="#000" stroke-width="1.7"/>
<circle cx="182.72" cy="1701.25" r="6.9" fill="#a0302c" stroke="#000" stroke-width="1.7"/>
<circle cx="187.98" cy="1733.36" r="8.0" fill="#a0302c" stroke="#000" stroke-width="1.7"/>
<circle cx="196.99" cy="1764.44" r="5.0" fill="#4d6fc4" stroke="#000" stroke-width="1.7"/>
<circle cx="209.58" cy="1794.09" r="6.6" fill="#a0302c" stroke="#000" stroke-width="1.7"/>
<circle cx="225.82" cy="1822.35" r="6.9" fill="#a0302c" stroke="#000" stroke-width="1.7"/>
<circle cx="245.20" cy="1848.32" r="6.6" fill="#a0302c" stroke="#000" stroke-width="1.7"/>
<circle cx="271.39" cy="1875.29" r="7.1" fill="#a0302c" stroke="#000" stroke-width="1.7"/>
<circle cx="314.94" cy="1907.10" r="6.1" fill="#4d6fc4" stroke="#000" stroke-width="1.7"/>
<circle cx="403.22" cy="1939.95" r="5.9" fill="#a0302c" stroke="#000" stroke-width="1.7"/>
<circle cx="435.57" cy="1943.89" r="4.7" fill="#4d6fc4" stroke="#000" stroke-width="1.7"/>
<circle cx="505.63" cy="1939.06" r="7.1" fill="#4d6fc4" stroke="#000" stroke-width="1.7"/>
<circle cx="557.47" cy="1923.06" r="6.2" fill="#4d6fc4" stroke="#000" stroke-width="1.7"/>
<circle cx="616.05" cy="1889.13" r="7.1" fill="#4d6fc4" stroke="#000" stroke-width="1.7"/>
<circle cx="670.88" cy="1833.19" r="3.6" fill="#bdb62a" stroke="#5a5a14" stroke-width="0.6"/>
<circle cx="704.33" cy="1772.14" r="5.9" fill="#a0302c" stroke="#000" stroke-width="1.7"/>
<circle cx="714.44" cy="1740.76" r="6.2" fill="#a0302c" stroke="#000" stroke-width="1.7"/>
<g font-size="14.5" text-anchor="middle" stroke-width="0.3" font-family="DejaVu Sans, Liberation Sans, sans-serif">
<text x="0" y="5.2" fill="#1a2e12" stroke="#1a2e12" transform="translate(737.6 1656.5) rotate(86.6)">a</text>
<text x="0" y="5.2" fill="#1a2e12" stroke="#1a2e12" transform="translate(767.2 1656.0) rotate(86.8)">b</text>
<text x="0" y="5.2" fill="#5a1212" stroke="#5a1212" transform="translate(719.2 1571.3) rotate(69.0)">c</text>
<text x="0" y="5.2" fill="#5a1212" stroke="#5a1212" transform="translate(687.8 1511.6) rotate(55.5)">d</text>
<text x="0" y="5.2" fill="#5a1212" stroke="#5a1212" transform="translate(658.5 1475.6) rotate(46.2)">e</text>
<text x="0" y="5.2" fill="#5a1212" stroke="#5a1212" transform="translate(619.8 1441.9) rotate(35.9)">f</text>
<text x="0" y="5.2" fill="#1a2e12" stroke="#1a2e12" transform="translate(549.9 1404.8) rotate(20.0)">g</text>
<text x="0" y="5.2" fill="#1a2e12" stroke="#1a2e12" transform="translate(570.1 1349.4) rotate(20.0)">h</text>
<text x="0" y="5.2" fill="#1a2e12" stroke="#1a2e12" transform="translate(590.6 1295.1) rotate(20.1)">i</text>
<text x="0" y="5.2" fill="#5a1212" stroke="#5a1212" transform="translate(455.6 1387.6) rotate(0.7)">j</text>
<text x="0" y="5.2" fill="#5a1212" stroke="#5a1212" transform="translate(457.0 1270.6) rotate(0.7)">k</text>
<text x="0" y="5.2" fill="#5a1212" stroke="#5a1212" transform="translate(370.9 1399.4) rotate(-16.5)">l</text>
<text x="0" y="5.2" fill="#5a1212" stroke="#5a1212" transform="translate(321.4 1419.2) rotate(-27.2)">m</text>
<text x="0" y="5.2" fill="#1a2e12" stroke="#1a2e12" transform="translate(291.8 1436.8) rotate(-34.1)">n</text>
<text x="0" y="5.2" fill="#5a1212" stroke="#5a1212" transform="translate(263.7 1458.4) rotate(-41.2)">o</text>
<text x="0" y="5.2" fill="#5a1212" stroke="#5a1212" transform="translate(231.1 1492.1) rotate(-50.6)">p</text>
<text x="0" y="5.2" fill="#1a2e12" stroke="#1a2e12" transform="translate(200.0 1538.5) rotate(-61.8)">q</text>
<text x="0" y="5.2" fill="#1a2e12" stroke="#1a2e12" transform="translate(182.3 1578.8) rotate(-70.7)">r</text>
<text x="0" y="5.2" fill="#1a2e12" stroke="#1a2e12" transform="translate(172.8 1611.9) rotate(-77.6)">s</text>
<text x="0" y="5.2" fill="#1a2e12" stroke="#1a2e12" transform="translate(167.0 1651.2) rotate(-85.5)">t</text>
<text x="0" y="5.2" fill="#1a2e12" stroke="#1a2e12" transform="translate(150.0 1582.4) rotate(-73.2)">u</text>
<text x="0" y="5.2" fill="#5a1212" stroke="#5a1212" transform="translate(167.1 1697.0) rotate(-94.7)">v</text>
<text x="0" y="5.2" fill="#5a1212" stroke="#5a1212" transform="translate(173.2 1736.7) rotate(-102.8)">w</text>
<text x="0" y="5.2" fill="#1a2e12" stroke="#1a2e12" transform="translate(182.5 1769.1) rotate(-109.5)">x</text>
<text x="0" y="5.2" fill="#5a1212" stroke="#5a1212" transform="translate(196.0 1801.0) rotate(-116.4)">y</text>
<text x="0" y="5.2" fill="#5a1212" stroke="#5a1212" transform="translate(212.9 1830.4) rotate(-123.2)">z</text>
<text x="0" y="5.2" fill="#5a1212" stroke="#5a1212" transform="translate(234.0 1858.6) rotate(-130.3)">a0</text>
<text x="0" y="5.2" fill="#5a1212" stroke="#5a1212" transform="translate(159.7 1792.3) rotate(-112.1)">a1</text>
<text x="0" y="5.2" fill="#5a1212" stroke="#5a1212" transform="translate(264.5 1889.4) rotate(-139.0)">a2</text>
<text x="0" y="5.2" fill="#5a1212" stroke="#5a1212" transform="translate(245.0 1911.8) rotate(-139.0)">a3</text>
<text x="0" y="5.2" fill="#1a2e12" stroke="#1a2e12" transform="translate(316.1 1925.2) rotate(208.4)">a4</text>
<text x="0" y="5.2" fill="#5a1212" stroke="#5a1212" transform="translate(383.9 1951.3) rotate(193.8)">a5</text>
<text x="0" y="5.2" fill="#1a2e12" stroke="#1a2e12" transform="translate(444.1 1959.5) rotate(181.6)">a6</text>
<text x="0" y="5.2" fill="#5a1212" stroke="#5a1212" transform="translate(406.5 1985.9) rotate(188.3)">a7</text>
<text x="0" y="5.2" fill="#5a1212" stroke="#5a1212" transform="translate(402.3 2015.0) rotate(188.3)">a8</text>
<text x="0" y="5.2" fill="#5a1212" stroke="#5a1212" transform="translate(398.1 2044.1) rotate(188.3)">a9</text>
<text x="0" y="5.2" fill="#1a2e12" stroke="#1a2e12" transform="translate(503.7 1954.9) rotate(169.6)">b0</text>
<text x="0" y="5.2" fill="#1a2e12" stroke="#1a2e12" transform="translate(509.6 1983.9) rotate(169.5)">b1</text>
<text x="0" y="5.2" fill="#1a2e12" stroke="#1a2e12" transform="translate(566.1 1935.9) rotate(156.5)">b2</text>
<text x="0" y="5.2" fill="#1a2e12" stroke="#1a2e12" transform="translate(577.9 1963.0) rotate(156.5)">b3</text>
<text x="0" y="5.2" fill="#1a2e12" stroke="#1a2e12" transform="translate(552.4 2003.7) rotate(163.1)">b4</text>
<text x="0" y="5.2" fill="#1a2e12" stroke="#1a2e12" transform="translate(627.0 1899.9) rotate(142.3)">b5</text>
<text x="0" y="5.2" fill="#1a2e12" stroke="#1a2e12" transform="translate(645.1 1923.3) rotate(142.3)">b6</text>
<text x="0" y="5.2" fill="#1a2e12" stroke="#1a2e12" transform="translate(663.1 1946.6) rotate(142.3)">b7</text>
<text x="0" y="5.2" fill="#1a2e12" stroke="#1a2e12" transform="translate(608.0 2014.0) rotate(155.4)">b8</text>
<text x="0" y="5.2" fill="#1a2e12" stroke="#1a2e12" transform="translate(705.5 1861.8) rotate(126.6)">b9</text>
<text x="0" y="5.2" fill="#5a1212" stroke="#5a1212" transform="translate(714.8 1786.7) rotate(113.3)">c0</text>
<text x="0" y="5.2" fill="#5a1212" stroke="#5a1212" transform="translate(729.1 1744.7) rotate(104.4)">c1</text>
<text x="0" y="5.2" fill="#5a1212" stroke="#5a1212" transform="translate(745.5 1789.8) rotate(111.6)">c2</text>
</g>
<path d="M99.7 1662.6L246.6 1662.6A205.8 205.8 0 0 0 312.7 1822.3L209.2 1925.9A352.5 352.5 0 0 1 99.7 1662.6Z" fill="none" stroke="#f0d838" stroke-width="4.1" stroke-dasharray="12.3 4"/>
<rect x="792.1" y="1342.4" width="37.8" height="13.4" fill="#4d6fc4" stroke="#000" stroke-width="1.6"/>
<rect x="792.1" y="1379.7" width="37.8" height="13.4" fill="#a0302c" stroke="#000" stroke-width="1.6"/>
<text x="838.3" y="1358.6" font-size="29" stroke="#000" textLength="111.8" lengthAdjust="spacingAndGlyphs">WT-EAH</text>
<g transform="translate(838.6 1395.9) scale(0.9106 1)" stroke="#000">
<text x="0" y="0" font-size="29" font-style="italic">Pigr</text>
<text x="52.2" y="-11.2" font-size="15.08" font-style="italic" stroke-width="0.5" textLength="12.1" lengthAdjust="spacingAndGlyphs">-/-</text>
<text x="64.3" y="0" font-size="29">-EAH</text>
</g>
<g font-size="14.5" font-family="DejaVu Sans, Liberation Sans, sans-serif" stroke="#000" stroke-width="0.35">
<text x="891.6" y="1820.2">a: g__Parvibacter</text>
<text x="891.6" y="1841.9">b: f__Coriobacteriaceae</text>
<text x="891.6" y="1863.7">c: g__Phocaeicola</text>
<text x="891.6" y="1885.4">d: g__Candidatus_Amulumruptor</text>
<text x="891.6" y="1907.2">e: g__Duncaniella</text>
<text x="891.6" y="1928.9">f: g__Prevotella</text>
<text x="891.6" y="1950.6">g: g__Vampirovibrio</text>
<text x="891.6" y="1972.4">h: o__Vampirovibrionales</text>
<text x="891.6" y="1994.1">i: p__Candidatus_Melainabacteria</text>
<text x="891.6" y="2015.9">j: g__Candidatus_Saccharimonas</text>
<text x="891.6" y="2037.6">k: p__Candidatus_Saccharibacteria</text>
<text x="891.6" y="2059.3">l: g__Butyricicoccus</text>
<text x="891.6" y="2081.1">m: g__Candidatus_Arthromitus</text>
<text x="1193.6" y="1820.5">n: g__Hungatella</text>
<text x="1193.6" y="1842.2">o: g__Massilioclostridium</text>
<text x="1193.6" y="1864.0">p: g__Aminipila</text>
<text x="1193.6" y="1885.7">q: g__Blautia</text>
<text x="1193.6" y="1907.5">r: g__Dorea</text>
<text x="1193.6" y="1929.2">s: g__Lacrimispora</text>
<text x="1193.6" y="1950.9">t: g__Schaedlerella</text>
<text x="1193.6" y="1972.7">u: f__Lachnospiraceae</text>
<text x="1193.6" y="1994.4">v: g__Acutalibacter</text>
<text x="1193.6" y="2016.2">w: g__Anaeromassilibacillus</text>
<text x="1193.6" y="2037.9">x: g__Angelakisella</text>
<text x="1193.6" y="2059.6">y: g__Caproicibacter</text>
<text x="1193.6" y="2081.4">z: g__Caproiciproducens</text>
<text x="1446.4" y="1825.7">a0: g__Harryflintia</text>
<text x="1446.4" y="1847.4">a1: f__Oscillospiraceae</text>
<text x="1446.4" y="1869.0">a2: g__Clostridioides</text>
<text x="1446.4" y="1890.7">a3: f__Peptostreptococcaceae</text>
<text x="1446.4" y="1912.3">a4: g__Massilistercora</text>
<text x="1446.4" y="1934.0">a5: g__Faecalibaculum</text>
<text x="1446.4" y="1955.7">a6: g__Longicatena</text>
<text x="1446.4" y="1977.3">a7: f__Erysipelotrichaceae</text>
<text x="1446.4" y="1999.0">a8: o__Erysipelotrichales</text>
<text x="1446.4" y="2020.6">a9: c__Erysipelotrichia</text>
<text x="1446.4" y="2042.3">b0: g__Mesorhizobium</text>
<text x="1446.4" y="2064.0">b1: f__Phyllobacteriaceae</text>
<text x="1446.4" y="2085.6">b2: g__Pseudolabrys</text>
<text x="1724.2" y="1825.7">b3: f__Xanthobacteraceae</text>
<text x="1724.2" y="1847.4">b4: o__Hyphomicrobiales</text>
<text x="1724.2" y="1869.0">b5: g__Wolbachia</text>
<text x="1724.2" y="1890.7">b6: f__Anaplasmataceae</text>
<text x="1724.2" y="1912.3">b7: o__Rickettsiales</text>
<text x="1724.2" y="1934.0">b8: c__Alphaproteobacteria</text>
<text x="1724.2" y="1955.7">b9: f__Burkholderiaceae</text>
<text x="1724.2" y="1977.3">c0: g__Parasutterella</text>
<text x="1724.2" y="1999.0">c1: g__Turicimonas</text>
<text x="1724.2" y="2020.6">c2: f__Sutterellaceae</text>
</g>
<g stroke="#000" stroke-width="1.5"><rect x="850.5" y="1809.5" width="29.6" height="11" fill="#4d6fc4"/><rect x="850.5" y="1831.2" width="29.6" height="11" fill="#4d6fc4"/><rect x="850.5" y="1853.0" width="29.6" height="11" fill="#a0302c"/><rect x="850.5" y="1874.7" width="29.6" height="11" fill="#a0302c"/><rect x="850.5" y="1896.5" width="29.6" height="11" fill="#a0302c"/><rect x="850.5" y="1918.2" width="29.6" height="11" fill="#a0302c"/><rect x="850.5" y="1939.9" width="29.6" height="11" fill="#4d6fc4"/><rect x="850.5" y="1961.7" width="29.6" height="11" fill="#4d6fc4"/><rect x="850.5" y="1983.4" width="29.6" height="11" fill="#4d6fc4"/><rect x="850.5" y="2005.2" width="29.6" height="11" fill="#a0302c"/><rect x="850.5" y="2026.9" width="29.6" height="11" fill="#a0302c"/><rect x="850.5" y="2048.6" width="29.6" height="11" fill="#a0302c"/><rect x="850.5" y="2070.4" width="29.6" height="11" fill="#a0302c"/><rect x="1152.3" y="1809.8" width="29.6" height="11" fill="#4d6fc4"/><rect x="1152.3" y="1831.5" width="29.6" height="11" fill="#a0302c"/><rect x="1152.3" y="1853.3" width="29.6" height="11" fill="#a0302c"/><rect x="1152.3" y="1875.0" width="29.6" height="11" fill="#4d6fc4"/><rect x="1152.3" y="1896.8" width="29.6" height="11" fill="#4d6fc4"/><rect x="1152.3" y="1918.5" width="29.6" height="11" fill="#4d6fc4"/><rect x="1152.3" y="1940.2" width="29.6" height="11" fill="#4d6fc4"/><rect x="1152.3" y="1962.0" width="29.6" height="11" fill="#4d6fc4"/><rect x="1152.3" y="1983.7" width="29.6" height="11" fill="#a0302c"/><rect x="1152.3" y="2005.5" width="29.6" height="11" fill="#a0302c"/><rect x="1152.3" y="2027.2" width="29.6" height="11" fill="#4d6fc4"/><rect x="1152.3" y="2048.9" width="29.6" height="11" fill="#a0302c"/><rect x="1152.3" y="2070.7" width="29.6" height="11" fill="#a0302c"/><rect x="1405.2" y="1815.0" width="29.6" height="11" fill="#a0302c"/><rect x="1405.2" y="1836.7" width="29.6" height="11" fill="#a0302c"/><rect x="1405.2" y="1858.3" width="29.6" height="11" fill="#a0302c"/><rect x="1405.2" y="1880.0" width="29.6" height="11" fill="#a0302c"/><rect x="1405.2" y="1901.6" width="29.6" height="11" fill="#4d6fc4"/><rect x="1405.2" y="1923.3" width="29.6" height="11" fill="#a0302c"/><rect x="1405.2" y="1945.0" width="29.6" height="11" fill="#4d6fc4"/><rect x="1405.2" y="1966.6" width="29.6" height="11" fill="#a0302c"/><rect x="1405.2" y="1988.3" width="29.6" height="11" fill="#a0302c"/><rect x="1405.2" y="2009.9" width="29.6" height="11" fill="#a0302c"/><rect x="1405.2" y="2031.6" width="29.6" height="11" fill="#4d6fc4"/><rect x="1405.2" y="2053.3" width="29.6" height="11" fill="#4d6fc4"/><rect x="1405.2" y="2074.9" width="29.6" height="11" fill="#4d6fc4"/><rect x="1682.7" y="1815.0" width="29.6" height="11" fill="#4d6fc4"/><rect x="1682.7" y="1836.7" width="29.6" height="11" fill="#4d6fc4"/><rect x="1682.7" y="1858.3" width="29.6" height="11" fill="#4d6fc4"/><rect x="1682.7" y="1880.0" width="29.6" height="11" fill="#4d6fc4"/><rect x="1682.7" y="1901.6" width="29.6" height="11" fill="#4d6fc4"/><rect x="1682.7" y="1923.3" width="29.6" height="11" fill="#4d6fc4"/><rect x="1682.7" y="1945.0" width="29.6" height="11" fill="#4d6fc4"/><rect x="1682.7" y="1966.6" width="29.6" height="11" fill="#a0302c"/><rect x="1682.7" y="1988.3" width="29.6" height="11" fill="#a0302c"/><rect x="1682.7" y="2009.9" width="29.6" height="11" fill="#a0302c"/></g>
</g>
</svg>
</body></html>
